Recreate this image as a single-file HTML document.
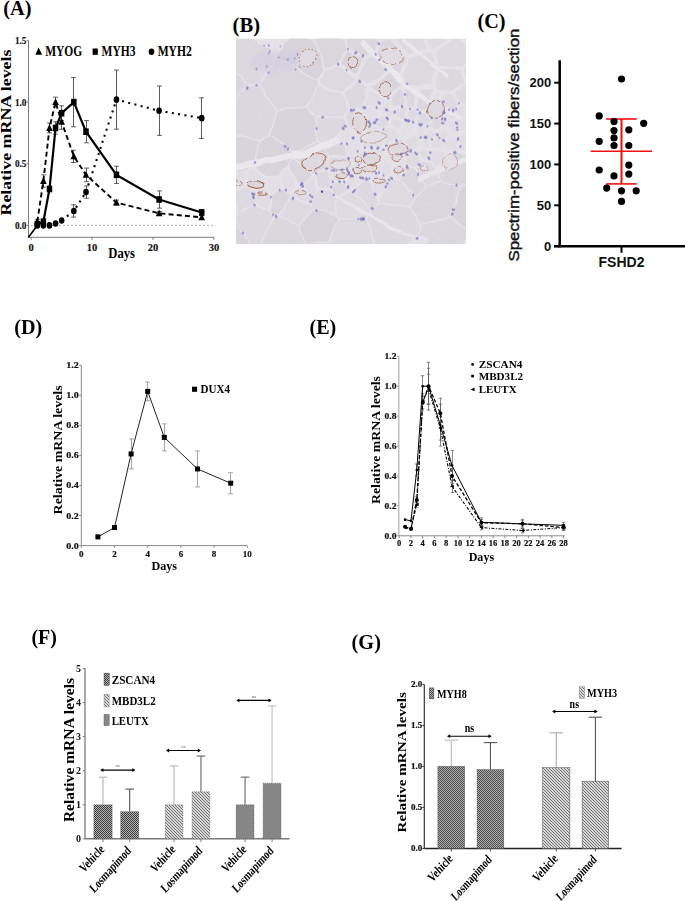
<!DOCTYPE html><html><head><meta charset="utf-8"><style>html,body{margin:0;padding:0;background:#fff;overflow:hidden}svg{display:block}</style></head><body>
<svg width="685" height="901" viewBox="0 0 685 901">
<rect width="685" height="901" fill="#fff"/>
<defs>
<pattern id="chk" width="2" height="2" patternUnits="userSpaceOnUse"><rect width="2" height="2" fill="#adadad"/><rect width="1" height="1" fill="#4e4e4e"/><rect x="1" y="1" width="1" height="1" fill="#4e4e4e"/></pattern>
<pattern id="chkF" width="2" height="2" patternUnits="userSpaceOnUse"><rect width="2" height="2" fill="#b4b4b4"/><rect width="1" height="1" fill="#3c3c3c"/><rect x="1" y="1" width="1" height="1" fill="#3c3c3c"/></pattern>
<pattern id="hat" width="3" height="3" patternUnits="userSpaceOnUse"><rect width="3" height="3" fill="#d4d4d4"/><rect width="1" height="1" fill="#787878"/><rect x="1" y="1" width="1" height="1" fill="#787878"/><rect x="2" y="2" width="1" height="1" fill="#787878"/></pattern>
<pattern id="hor" width="2" height="2" patternUnits="userSpaceOnUse"><rect width="2" height="2" fill="#8a8a8a"/><rect width="2" height="0.6" fill="#9a9a9a"/></pattern>
</defs>
<text x="3.30" y="14.60" font-size="21" font-family="'Liberation Serif', serif" font-weight="bold" fill="#000" textLength="28.20" lengthAdjust="spacingAndGlyphs" >(A)</text>
<line x1="28.50" y1="40.50" x2="28.50" y2="237.30" stroke="#7a7a7a" stroke-width="1" />
<line x1="28.50" y1="237.30" x2="214.00" y2="237.30" stroke="#7a7a7a" stroke-width="1" />
<line x1="26.60" y1="40.45" x2="28.50" y2="40.45" stroke="#7a7a7a" stroke-width="1" />
<text x="26.50" y="44.05" font-size="10.5" font-family="'Liberation Serif', serif" font-weight="bold" fill="#111" text-anchor="end" textLength="11.60" lengthAdjust="spacingAndGlyphs" stroke="#111" stroke-width="0.15">1.5</text>
<line x1="26.60" y1="102.10" x2="28.50" y2="102.10" stroke="#7a7a7a" stroke-width="1" />
<text x="26.50" y="105.70" font-size="10.5" font-family="'Liberation Serif', serif" font-weight="bold" fill="#111" text-anchor="end" textLength="11.60" lengthAdjust="spacingAndGlyphs" stroke="#111" stroke-width="0.15">1.0</text>
<line x1="26.60" y1="163.75" x2="28.50" y2="163.75" stroke="#7a7a7a" stroke-width="1" />
<text x="26.50" y="167.35" font-size="10.5" font-family="'Liberation Serif', serif" font-weight="bold" fill="#111" text-anchor="end" textLength="11.60" lengthAdjust="spacingAndGlyphs" stroke="#111" stroke-width="0.15">0.5</text>
<line x1="26.60" y1="225.40" x2="28.50" y2="225.40" stroke="#7a7a7a" stroke-width="1" />
<text x="26.50" y="229.00" font-size="10.5" font-family="'Liberation Serif', serif" font-weight="bold" fill="#111" text-anchor="end" textLength="11.60" lengthAdjust="spacingAndGlyphs" stroke="#111" stroke-width="0.15">0.0</text>
<line x1="31.20" y1="237.30" x2="31.20" y2="239.80" stroke="#7a7a7a" stroke-width="1" />
<text x="31.20" y="251.00" font-size="10.5" font-family="'Liberation Serif', serif" font-weight="bold" fill="#111" text-anchor="middle" stroke="#111" stroke-width="0.15">0</text>
<line x1="92.10" y1="237.30" x2="92.10" y2="239.80" stroke="#7a7a7a" stroke-width="1" />
<text x="92.10" y="251.00" font-size="10.5" font-family="'Liberation Serif', serif" font-weight="bold" fill="#111" text-anchor="middle" stroke="#111" stroke-width="0.15">10</text>
<line x1="153.00" y1="237.30" x2="153.00" y2="239.80" stroke="#7a7a7a" stroke-width="1" />
<text x="153.00" y="251.00" font-size="10.5" font-family="'Liberation Serif', serif" font-weight="bold" fill="#111" text-anchor="middle" stroke="#111" stroke-width="0.15">20</text>
<line x1="213.90" y1="237.30" x2="213.90" y2="239.80" stroke="#7a7a7a" stroke-width="1" />
<text x="213.90" y="251.00" font-size="10.5" font-family="'Liberation Serif', serif" font-weight="bold" fill="#111" text-anchor="middle" stroke="#111" stroke-width="0.15">30</text>
<line x1="31.00" y1="225.40" x2="214.00" y2="225.40" stroke="#9a9a9a" stroke-width="0.7" stroke-dasharray="2,2"/>
<text x="108.30" y="258.30" font-size="14.5" font-family="'Liberation Serif', serif" font-weight="bold" fill="#000" textLength="26.70" lengthAdjust="spacingAndGlyphs" >Days</text>
<text x="10.60" y="215.50" font-size="14.8" font-family="'Liberation Serif', serif" font-weight="bold" fill="#000" textLength="166.00" lengthAdjust="spacingAndGlyphs" transform="rotate(-90 10.60 215.50)" >Relative mRNA levels</text>
<polygon points="38.6,47.6 42.2,54.8 35.4,54.8" fill="#000"/>
<text x="45.20" y="56.40" font-size="14" font-family="'Liberation Serif', serif" font-weight="bold" fill="#000" textLength="37.10" lengthAdjust="spacingAndGlyphs" >MYOG</text>
<rect x="92.60" y="48.50" width="5.20" height="6.30" fill="#000" />
<text x="101.60" y="56.40" font-size="14" font-family="'Liberation Serif', serif" font-weight="bold" fill="#000" textLength="33.80" lengthAdjust="spacingAndGlyphs" >MYH3</text>
<ellipse cx="151.5" cy="51.8" rx="2.8" ry="3.3" fill="#000"/>
<text x="157.70" y="56.40" font-size="14" font-family="'Liberation Serif', serif" font-weight="bold" fill="#000" textLength="34.10" lengthAdjust="spacingAndGlyphs" >MYH2</text>
<line x1="37.50" y1="219.24" x2="37.50" y2="224.17" stroke="#4a4a4a" stroke-width="0.9" />
<line x1="35.10" y1="219.24" x2="39.90" y2="219.24" stroke="#4a4a4a" stroke-width="0.9" />
<line x1="35.10" y1="224.17" x2="39.90" y2="224.17" stroke="#4a4a4a" stroke-width="0.9" />
<line x1="43.50" y1="174.85" x2="43.50" y2="187.18" stroke="#4a4a4a" stroke-width="0.9" />
<line x1="41.10" y1="174.85" x2="45.90" y2="174.85" stroke="#4a4a4a" stroke-width="0.9" />
<line x1="41.10" y1="187.18" x2="45.90" y2="187.18" stroke="#4a4a4a" stroke-width="0.9" />
<line x1="49.50" y1="123.06" x2="49.50" y2="132.93" stroke="#4a4a4a" stroke-width="0.9" />
<line x1="47.10" y1="123.06" x2="51.90" y2="123.06" stroke="#4a4a4a" stroke-width="0.9" />
<line x1="47.10" y1="132.93" x2="51.90" y2="132.93" stroke="#4a4a4a" stroke-width="0.9" />
<line x1="55.50" y1="97.17" x2="55.50" y2="107.03" stroke="#4a4a4a" stroke-width="0.9" />
<line x1="53.10" y1="97.17" x2="57.90" y2="97.17" stroke="#4a4a4a" stroke-width="0.9" />
<line x1="53.10" y1="107.03" x2="57.90" y2="107.03" stroke="#4a4a4a" stroke-width="0.9" />
<line x1="61.50" y1="114.43" x2="61.50" y2="129.23" stroke="#4a4a4a" stroke-width="0.9" />
<line x1="59.10" y1="114.43" x2="63.90" y2="114.43" stroke="#4a4a4a" stroke-width="0.9" />
<line x1="59.10" y1="129.23" x2="63.90" y2="129.23" stroke="#4a4a4a" stroke-width="0.9" />
<line x1="73.50" y1="150.19" x2="73.50" y2="162.52" stroke="#4a4a4a" stroke-width="0.9" />
<line x1="71.10" y1="150.19" x2="75.90" y2="150.19" stroke="#4a4a4a" stroke-width="0.9" />
<line x1="71.10" y1="162.52" x2="75.90" y2="162.52" stroke="#4a4a4a" stroke-width="0.9" />
<line x1="86.50" y1="168.07" x2="86.50" y2="181.63" stroke="#4a4a4a" stroke-width="0.9" />
<line x1="84.10" y1="168.07" x2="88.90" y2="168.07" stroke="#4a4a4a" stroke-width="0.9" />
<line x1="84.10" y1="181.63" x2="88.90" y2="181.63" stroke="#4a4a4a" stroke-width="0.9" />
<line x1="116.50" y1="200.12" x2="116.50" y2="205.06" stroke="#4a4a4a" stroke-width="0.9" />
<line x1="114.10" y1="200.12" x2="118.90" y2="200.12" stroke="#4a4a4a" stroke-width="0.9" />
<line x1="114.10" y1="205.06" x2="118.90" y2="205.06" stroke="#4a4a4a" stroke-width="0.9" />
<line x1="159.50" y1="211.47" x2="159.50" y2="215.17" stroke="#4a4a4a" stroke-width="0.9" />
<line x1="157.10" y1="211.47" x2="161.90" y2="211.47" stroke="#4a4a4a" stroke-width="0.9" />
<line x1="157.10" y1="215.17" x2="161.90" y2="215.17" stroke="#4a4a4a" stroke-width="0.9" />
<line x1="201.50" y1="215.54" x2="201.50" y2="219.24" stroke="#4a4a4a" stroke-width="0.9" />
<line x1="199.10" y1="215.54" x2="203.90" y2="215.54" stroke="#4a4a4a" stroke-width="0.9" />
<line x1="199.10" y1="219.24" x2="203.90" y2="219.24" stroke="#4a4a4a" stroke-width="0.9" />
<line x1="43.50" y1="219.24" x2="43.50" y2="224.17" stroke="#4a4a4a" stroke-width="0.9" />
<line x1="41.10" y1="219.24" x2="45.90" y2="219.24" stroke="#4a4a4a" stroke-width="0.9" />
<line x1="41.10" y1="224.17" x2="45.90" y2="224.17" stroke="#4a4a4a" stroke-width="0.9" />
<line x1="49.50" y1="186.56" x2="49.50" y2="191.49" stroke="#4a4a4a" stroke-width="0.9" />
<line x1="47.10" y1="186.56" x2="51.90" y2="186.56" stroke="#4a4a4a" stroke-width="0.9" />
<line x1="47.10" y1="191.49" x2="51.90" y2="191.49" stroke="#4a4a4a" stroke-width="0.9" />
<line x1="55.50" y1="121.83" x2="55.50" y2="134.16" stroke="#4a4a4a" stroke-width="0.9" />
<line x1="53.10" y1="121.83" x2="57.90" y2="121.83" stroke="#4a4a4a" stroke-width="0.9" />
<line x1="53.10" y1="134.16" x2="57.90" y2="134.16" stroke="#4a4a4a" stroke-width="0.9" />
<line x1="61.50" y1="105.80" x2="61.50" y2="120.59" stroke="#4a4a4a" stroke-width="0.9" />
<line x1="59.10" y1="105.80" x2="63.90" y2="105.80" stroke="#4a4a4a" stroke-width="0.9" />
<line x1="59.10" y1="120.59" x2="63.90" y2="120.59" stroke="#4a4a4a" stroke-width="0.9" />
<line x1="73.50" y1="77.44" x2="73.50" y2="126.76" stroke="#4a4a4a" stroke-width="0.9" />
<line x1="71.10" y1="77.44" x2="75.90" y2="77.44" stroke="#4a4a4a" stroke-width="0.9" />
<line x1="71.10" y1="126.76" x2="75.90" y2="126.76" stroke="#4a4a4a" stroke-width="0.9" />
<line x1="86.50" y1="120.60" x2="86.50" y2="142.79" stroke="#4a4a4a" stroke-width="0.9" />
<line x1="84.10" y1="120.60" x2="88.90" y2="120.60" stroke="#4a4a4a" stroke-width="0.9" />
<line x1="84.10" y1="142.79" x2="88.90" y2="142.79" stroke="#4a4a4a" stroke-width="0.9" />
<line x1="116.50" y1="166.22" x2="116.50" y2="183.48" stroke="#4a4a4a" stroke-width="0.9" />
<line x1="114.10" y1="166.22" x2="118.90" y2="166.22" stroke="#4a4a4a" stroke-width="0.9" />
<line x1="114.10" y1="183.48" x2="118.90" y2="183.48" stroke="#4a4a4a" stroke-width="0.9" />
<line x1="159.50" y1="190.88" x2="159.50" y2="208.14" stroke="#4a4a4a" stroke-width="0.9" />
<line x1="157.10" y1="190.88" x2="161.90" y2="190.88" stroke="#4a4a4a" stroke-width="0.9" />
<line x1="157.10" y1="208.14" x2="161.90" y2="208.14" stroke="#4a4a4a" stroke-width="0.9" />
<line x1="201.50" y1="209.99" x2="201.50" y2="214.92" stroke="#4a4a4a" stroke-width="0.9" />
<line x1="199.10" y1="209.99" x2="203.90" y2="209.99" stroke="#4a4a4a" stroke-width="0.9" />
<line x1="199.10" y1="214.92" x2="203.90" y2="214.92" stroke="#4a4a4a" stroke-width="0.9" />
<line x1="73.50" y1="204.81" x2="73.50" y2="217.14" stroke="#4a4a4a" stroke-width="0.9" />
<line x1="71.10" y1="204.81" x2="75.90" y2="204.81" stroke="#4a4a4a" stroke-width="0.9" />
<line x1="71.10" y1="217.14" x2="75.90" y2="217.14" stroke="#4a4a4a" stroke-width="0.9" />
<line x1="86.50" y1="185.94" x2="86.50" y2="198.27" stroke="#4a4a4a" stroke-width="0.9" />
<line x1="84.10" y1="185.94" x2="88.90" y2="185.94" stroke="#4a4a4a" stroke-width="0.9" />
<line x1="84.10" y1="198.27" x2="88.90" y2="198.27" stroke="#4a4a4a" stroke-width="0.9" />
<line x1="116.50" y1="70.04" x2="116.50" y2="129.23" stroke="#4a4a4a" stroke-width="0.9" />
<line x1="114.10" y1="70.04" x2="118.90" y2="70.04" stroke="#4a4a4a" stroke-width="0.9" />
<line x1="114.10" y1="129.23" x2="118.90" y2="129.23" stroke="#4a4a4a" stroke-width="0.9" />
<line x1="159.50" y1="86.07" x2="159.50" y2="135.39" stroke="#4a4a4a" stroke-width="0.9" />
<line x1="157.10" y1="86.07" x2="161.90" y2="86.07" stroke="#4a4a4a" stroke-width="0.9" />
<line x1="157.10" y1="135.39" x2="161.90" y2="135.39" stroke="#4a4a4a" stroke-width="0.9" />
<line x1="201.50" y1="97.78" x2="201.50" y2="138.47" stroke="#4a4a4a" stroke-width="0.9" />
<line x1="199.10" y1="97.78" x2="203.90" y2="97.78" stroke="#4a4a4a" stroke-width="0.9" />
<line x1="199.10" y1="138.47" x2="203.90" y2="138.47" stroke="#4a4a4a" stroke-width="0.9" />
<line x1="28.30" y1="237.50" x2="37.29" y2="225.40" stroke="#000" stroke-width="1.6" />
<polyline points="37.29,225.40 43.38,225.40 49.47,225.40 55.56,223.55 61.65,220.47 73.83,210.97 86.01,192.11 116.46,99.63 159.09,110.73 201.72,118.13" fill="none" stroke="#000" stroke-width="2.1" stroke-dasharray="2,4.4"/>
<polyline points="37.29,221.70 43.38,181.01 49.47,127.99 55.56,102.10 61.65,121.83 73.83,156.35 86.01,174.85 116.46,202.59 159.09,213.32 201.72,217.39" fill="none" stroke="#000" stroke-width="1.9" stroke-dasharray="5,3.2"/>
<polyline points="37.29,224.17 43.38,221.70 49.47,189.03 55.56,127.99 61.65,113.20 73.83,102.10 86.01,131.69 116.46,174.85 159.09,199.51 201.72,212.45" fill="none" stroke="#000" stroke-width="2.2" />
<ellipse cx="37.29" cy="225.40" rx="2.8" ry="3.3" fill="#000"/>
<ellipse cx="43.38" cy="225.40" rx="2.8" ry="3.3" fill="#000"/>
<ellipse cx="49.47" cy="225.40" rx="2.8" ry="3.3" fill="#000"/>
<ellipse cx="55.56" cy="223.55" rx="2.8" ry="3.3" fill="#000"/>
<ellipse cx="61.65" cy="220.47" rx="2.8" ry="3.3" fill="#000"/>
<ellipse cx="73.83" cy="210.97" rx="2.8" ry="3.3" fill="#000"/>
<ellipse cx="86.01" cy="192.11" rx="2.8" ry="3.3" fill="#000"/>
<ellipse cx="116.46" cy="99.63" rx="2.8" ry="3.3" fill="#000"/>
<ellipse cx="159.09" cy="110.73" rx="2.8" ry="3.3" fill="#000"/>
<ellipse cx="201.72" cy="118.13" rx="2.8" ry="3.3" fill="#000"/>
<polygon points="37.29,217.80 40.59,224.60 33.99,224.60" fill="#000"/>
<polygon points="43.38,177.11 46.68,183.91 40.08,183.91" fill="#000"/>
<polygon points="49.47,124.09 52.77,130.89 46.17,130.89" fill="#000"/>
<polygon points="55.56,98.20 58.86,105.00 52.26,105.00" fill="#000"/>
<polygon points="61.65,117.93 64.95,124.73 58.35,124.73" fill="#000"/>
<polygon points="73.83,152.45 77.13,159.25 70.53,159.25" fill="#000"/>
<polygon points="86.01,170.95 89.31,177.75 82.71,177.75" fill="#000"/>
<polygon points="116.46,198.69 119.76,205.49 113.16,205.49" fill="#000"/>
<polygon points="159.09,209.42 162.39,216.22 155.79,216.22" fill="#000"/>
<polygon points="201.72,213.49 205.02,220.29 198.42,220.29" fill="#000"/>
<rect x="34.54" y="220.87" width="5.50" height="6.60" fill="#000" />
<rect x="40.63" y="218.40" width="5.50" height="6.60" fill="#000" />
<rect x="46.72" y="185.73" width="5.50" height="6.60" fill="#000" />
<rect x="52.81" y="124.69" width="5.50" height="6.60" fill="#000" />
<rect x="58.90" y="109.90" width="5.50" height="6.60" fill="#000" />
<rect x="71.08" y="98.80" width="5.50" height="6.60" fill="#000" />
<rect x="83.26" y="128.39" width="5.50" height="6.60" fill="#000" />
<rect x="113.71" y="171.55" width="5.50" height="6.60" fill="#000" />
<rect x="156.34" y="196.21" width="5.50" height="6.60" fill="#000" />
<rect x="198.97" y="209.15" width="5.50" height="6.60" fill="#000" />
<text x="232.60" y="31.60" font-size="20" font-family="'Liberation Serif', serif" font-weight="bold" fill="#000" textLength="27.40" lengthAdjust="spacingAndGlyphs" >(B)</text>
<svg x="236" y="38.6" width="230" height="205.4" viewBox="0 0 230 205.4" overflow="hidden">
<defs><filter id="hb" x="-5%" y="-5%" width="110%" height="110%"><feGaussianBlur stdDeviation="0.6"/></filter><filter id="hb2" x="-20%" y="-20%" width="140%" height="140%"><feGaussianBlur stdDeviation="2.5"/></filter><filter id="hd" x="-5%" y="-5%" width="110%" height="110%"><feTurbulence type="fractalNoise" baseFrequency="0.05" numOctaves="2" seed="3" result="t"/><feDisplacementMap in="SourceGraphic" in2="t" scale="6" xChannelSelector="R" yChannelSelector="G" result="d"/><feGaussianBlur in="d" stdDeviation="0.5"/></filter></defs>
<rect width="230.0" height="205.4" fill="#e4e2e7"/>
<g filter="url(#hd)">
<path d="M41.2,13.9 L41.1,17.7 L80.5,41.2 L88.2,28.8 L77.7,1.3 L66.1,-1.2 L54.2,-1.2 L41.2,13.9Z" fill="rgb(216,211,219)"/>
<path d="M126.6,21.0 L126.6,19.7 L125.8,18.8 L111.6,12.6 L110.3,13.5 L104.5,22.9 L104.2,24.2 L105.0,25.3 L118.3,34.7 L119.6,35.0 L120.9,34.1 L126.6,21.0Z" fill="rgb(216,211,219)"/>
<path d="M141.4,13.7 L141.6,15.3 L152.8,32.0 L162.0,34.1 L163.6,33.5 L170.4,19.2 L170.5,18.0 L154.4,0.2 L152.2,-0.1 L145.8,2.5 L141.4,13.7Z" fill="rgb(219,214,222)"/>
<path d="M163.5,38.7 L162.3,37.8 L152.0,36.0 L138.0,46.3 L137.5,47.2 L137.5,48.3 L146.7,56.7 L152.5,57.4 L165.8,44.5 L165.9,42.9 L163.5,38.7Z" fill="rgb(216,212,219)"/>
<path d="M196.2,76.4 L197.5,77.2 L204.1,77.2 L204.9,76.4 L207.1,70.6 L203.7,55.7 L203.0,54.8 L200.7,53.7 L199.6,53.8 L198.7,54.7 L193.3,71.3 L193.5,72.5 L196.2,76.4Z" fill="rgb(224,221,227)"/>
<path d="M121.7,95.4 L123.3,95.1 L131.7,87.5 L132.1,85.6 L125.0,73.1 L113.4,73.4 L112.5,74.1 L109.5,78.9 L111.1,85.8 L120.7,94.9 L121.7,95.4Z" fill="rgb(221,216,224)"/>
<path d="M129.0,106.3 L130.6,107.3 L143.4,107.8 L144.7,107.3 L145.2,105.7 L143.3,94.0 L142.8,93.1 L136.5,89.0 L135.2,88.8 L126.0,97.0 L125.6,98.9 L129.0,106.3Z" fill="rgb(226,222,229)"/>
<path d="M90.8,118.3 L84.5,106.3 L81.2,104.4 L57.2,114.2 L57.5,118.8 L76.9,134.1 L78.7,134.5 L89.8,129.4 L90.8,118.3Z" fill="rgb(216,213,219)"/>
<path d="M97.5,133.3 L96.2,134.1 L95.9,135.5 L97.7,140.2 L98.9,141.1 L108.8,141.6 L109.7,140.9 L111.7,137.1 L110.9,133.8 L109.7,132.8 L97.5,133.3Z" fill="rgb(224,220,227)"/>
<path d="M139.8,124.5 L141.5,123.9 L146.5,117.1 L146.6,113.8 L146.0,112.0 L144.5,111.1 L131.4,110.9 L130.5,112.3 L131.0,122.0 L132.0,122.8 L139.8,124.5Z" fill="rgb(224,221,227)"/>
<path d="M129.6,137.3 L130.5,138.6 L132.0,138.7 L139.5,133.0 L140.0,131.7 L140.0,129.1 L139.5,128.0 L130.8,125.8 L129.2,126.2 L128.3,128.0 L129.6,137.3Z" fill="rgb(224,221,227)"/>
<path d="M114.5,134.5 L115.9,135.7 L123.9,137.3 L125.2,137.1 L126.1,135.4 L125.1,129.1 L123.9,128.1 L115.5,127.1 L114.6,127.9 L113.6,130.8 L114.5,134.5Z" fill="rgb(226,222,229)"/>
<path d="M150.7,108.8 L149.9,109.7 L149.7,110.7 L150.3,111.8 L151.3,112.2 L168.9,114.3 L170.2,113.8 L171.2,112.2 L167.2,102.8 L165.5,101.7 L164.4,101.9 L150.7,108.8Z" fill="rgb(222,218,225)"/>
<path d="M153.3,115.7 L151.6,116.4 L151.5,118.3 L157.5,124.3 L166.7,123.2 L168.1,122.2 L168.6,118.9 L167.5,117.5 L153.3,115.7Z" fill="rgb(225,221,228)"/>
<path d="M141.0,156.0 L142.3,157.0 L144.0,156.3 L150.9,141.8 L150.1,140.2 L142.0,135.6 L140.9,135.9 L135.1,140.5 L134.4,141.9 L141.0,156.0Z" fill="rgb(225,221,228)"/>
<path d="M19.2,131.0 L17.3,130.7 L13.7,133.5 L12.2,147.3 L12.7,148.8 L16.3,152.6 L17.3,153.0 L18.6,152.6 L26.9,145.8 L27.9,139.6 L27.4,138.2 L19.2,131.0Z" fill="rgb(225,221,228)"/>
<path d="M19.7,155.9 L19.0,157.5 L19.9,164.6 L20.4,165.7 L29.8,168.9 L31.4,168.5 L32.0,167.4 L33.3,157.5 L29.2,150.3 L28.2,149.8 L27.0,149.9 L19.7,155.9Z" fill="rgb(224,219,227)"/>
<path d="M169.3,128.9 L169.3,127.2 L168.0,126.4 L158.9,127.8 L158.3,128.8 L157.1,136.7 L157.5,138.0 L158.3,138.7 L162.7,139.6 L164.2,139.3 L169.3,128.9Z" fill="rgb(226,222,229)"/>
<path d="M203.2,131.6 L205.9,141.4 L223.8,146.8 L228.8,144.7 L231.2,118.9 L225.9,115.0 L210.7,114.3 L203.2,131.6Z" fill="rgb(217,214,220)"/>
<path d="M124.9,125.0 L126.4,124.5 L127.6,122.7 L127.3,113.9 L126.8,112.9 L125.7,112.5 L115.2,118.6 L114.3,120.1 L115.0,122.6 L115.9,123.5 L124.9,125.0Z" fill="rgb(223,219,226)"/>
<path d="M92.2,128.3 L92.7,129.7 L93.9,130.3 L110.1,129.3 L111.0,128.5 L112.3,125.0 L110.9,120.1 L109.2,118.9 L93.9,119.8 L92.9,121.1 L92.2,128.3Z" fill="rgb(221,217,224)"/>
<path d="M1.3,134.3 L0.2,134.8 L-0.4,136.0 L-0.4,149.3 L0.1,150.6 L1.3,151.1 L8.0,148.1 L8.8,147.4 L10.1,135.9 L9.7,134.7 L8.6,134.1 L1.3,134.3Z" fill="rgb(224,221,227)"/>
<path d="M55.8,156.7 L57.0,158.0 L71.2,162.8 L72.9,162.1 L73.8,159.4 L73.4,158.0 L65.0,148.0 L63.9,147.3 L62.4,147.7 L55.9,154.3 L55.5,155.3 L55.8,156.7Z" fill="rgb(224,220,227)"/>
<path d="M204.4,141.6 L201.8,131.9 L192.3,122.5 L187.4,122.7 L180.3,130.6 L189.2,148.1 L204.4,141.6Z" fill="rgb(220,216,223)"/>
<path d="M13.0,46.8 L-1.2,34.9 L-1.2,59.3 L13.0,46.8Z" fill="rgb(218,213,221)"/>
<path d="M14.1,206.4 L-1.2,183.9 L-1.2,206.7 L14.1,206.4Z" fill="rgb(216,212,219)"/>
<path d="M39.7,14.1 L15.2,-1.2 L2.6,-1.2 L-1.2,2.2 L-1.2,33.0 L14.4,46.0 L23.3,45.7 L39.6,18.0 L39.7,14.1Z" fill="rgb(220,216,223)"/>
<path d="M138.1,204.0 L129.0,181.1 L103.2,181.2 L94.4,203.5 L96.9,206.7 L134.5,206.7 L138.1,204.0Z" fill="rgb(221,217,224)"/>
<path d="M76.4,158.6 L74.6,165.4 L76.1,170.0 L99.0,175.7 L100.3,161.6 L94.0,151.9 L81.1,153.0 L76.4,158.6Z" fill="rgb(221,217,224)"/>
<path d="M68.5,205.6 L63.0,187.2 L39.8,178.8 L39.4,178.9 L25.0,206.7 L67.8,206.7 L68.5,205.6Z" fill="rgb(218,215,221)"/>
<path d="M216.3,178.0 L231.2,192.1 L231.2,146.5 L229.5,146.0 L224.5,148.1 L216.3,178.0Z" fill="rgb(216,211,219)"/>
<path d="M80.6,46.7 L80.1,42.7 L40.6,19.2 L24.7,46.4 L41.5,71.4 L70.2,66.3 L80.6,46.7Z" fill="rgb(218,214,221)"/>
<path d="M79.3,78.7 L70.4,67.8 L41.8,72.9 L35.2,95.8 L56.5,112.9 L80.5,103.1 L79.3,78.7Z" fill="rgb(217,212,220)"/>
<path d="M180.2,159.6 L177.2,169.5 L183.8,184.9 L214.8,177.6 L222.9,148.1 L205.4,142.8 L189.3,149.6 L180.2,159.6Z" fill="rgb(218,214,221)"/>
<path d="M205.0,52.0 L213.8,52.0 L226.8,43.4 L227.2,41.7 L224.6,31.8 L223.6,31.4 L205.6,29.6 L204.2,30.1 L198.6,47.4 L199.8,49.2 L205.0,52.0Z" fill="rgb(219,216,222)"/>
<path d="M224.3,94.9 L223.0,95.8 L222.9,97.2 L226.9,111.1 L227.7,112.0 L229.1,112.1 L230.0,111.6 L230.4,110.6 L230.3,95.5 L228.8,94.2 L224.3,94.9Z" fill="rgb(224,221,227)"/>
<path d="M215.2,179.0 L183.9,186.4 L180.8,198.7 L192.5,206.7 L224.7,206.7 L231.2,200.2 L231.2,194.2 L215.2,179.0Z" fill="rgb(219,215,222)"/>
<path d="M177.5,87.1 L177.2,85.9 L176.2,85.1 L170.1,83.3 L168.3,84.0 L165.2,93.1 L167.0,98.8 L168.9,99.0 L176.1,94.8 L177.5,87.1Z" fill="rgb(227,223,230)"/>
<path d="M-1.2,96.2 L22.7,101.3 L33.7,95.5 L40.4,72.3 L23.4,47.2 L14.4,47.5 L-1.2,61.3 L-1.2,96.2Z" fill="rgb(220,215,223)"/>
<path d="M56.1,119.1 L55.6,114.1 L34.2,96.9 L23.5,102.6 L19.1,127.7 L30.0,137.3 L43.5,136.8 L52.6,127.4 L56.1,119.1Z" fill="rgb(216,212,219)"/>
<path d="M230.2,48.8 L229.4,47.3 L227.7,47.1 L218.1,53.9 L218.3,55.7 L224.2,61.7 L228.5,62.3 L230.1,61.2 L230.2,48.8Z" fill="rgb(220,217,223)"/>
<path d="M206.2,99.4 L208.2,99.5 L212.5,96.5 L213.1,95.5 L212.6,93.9 L207.5,90.2 L206.0,90.6 L202.8,94.4 L203.3,97.0 L206.2,99.4Z" fill="rgb(223,220,226)"/>
<path d="M184.8,97.0 L186.0,97.1 L187.1,96.2 L188.9,89.6 L187.7,88.4 L181.8,87.4 L180.5,88.7 L179.9,94.1 L180.7,95.2 L184.8,97.0Z" fill="rgb(226,222,229)"/>
<path d="M211.2,69.3 L218.2,70.1 L219.0,69.4 L220.9,64.8 L220.7,63.3 L213.7,55.8 L208.4,55.8 L207.7,56.6 L207.5,57.6 L210.1,68.5 L211.2,69.3Z" fill="rgb(223,219,226)"/>
<path d="M78.2,-0.1 L80.4,-1.2 L73.1,-1.2 L78.2,-0.1Z" fill="rgb(220,216,223)"/>
<path d="M179.2,198.6 L182.5,185.8 L175.9,170.3 L142.8,165.3 L135.1,171.8 L130.4,180.4 L139.6,203.7 L147.1,206.7 L169.4,206.7 L179.2,198.6Z" fill="rgb(220,216,223)"/>
<path d="M218.9,0.1 L199.7,13.4 L199.7,14.6 L203.8,25.0 L204.9,25.9 L225.0,27.8 L226.2,27.2 L230.1,22.4 L230.1,6.5 L220.7,-0.1 L218.9,0.1Z" fill="rgb(221,217,224)"/>
<path d="M228.3,30.3 L230.2,38.6 L230.2,28.0 L228.3,30.3Z" fill="rgb(216,212,219)"/>
<path d="M230.2,1.9 L230.2,-0.2 L227.1,-0.2 L230.2,1.9Z" fill="rgb(221,218,224)"/>
<path d="M106.3,55.7 L81.7,47.8 L71.6,66.9 L80.4,77.7 L107.2,77.8 L111.3,71.7 L106.3,55.7Z" fill="rgb(221,217,224)"/>
<path d="M169.8,42.5 L170.9,43.4 L182.3,46.4 L193.9,46.2 L195.1,45.5 L200.9,27.7 L195.3,14.1 L192.5,13.1 L174.4,19.5 L166.5,36.0 L166.7,37.0 L169.8,42.5Z" fill="rgb(220,217,223)"/>
<path d="M130.9,49.8 L130.8,48.6 L130.1,47.8 L123.1,44.5 L121.9,44.3 L109.7,55.0 L109.3,56.7 L113.4,69.4 L114.6,69.9 L124.5,69.4 L126.2,68.4 L130.9,49.8Z" fill="rgb(220,216,223)"/>
<path d="M141.6,1.3 L139.2,-0.2 L113.7,-0.1 L111.6,1.2 L111.0,2.3 L111.9,7.8 L112.9,9.0 L129.0,16.2 L130.2,16.3 L137.8,13.0 L141.8,2.5 L141.6,1.3Z" fill="rgb(218,214,221)"/>
<path d="M93.2,204.5 L69.6,206.7 L95.0,206.7 L93.2,204.5Z" fill="rgb(218,214,221)"/>
<path d="M230.3,144.7 L231.2,145.0 L231.2,135.2 L230.3,144.7Z" fill="rgb(218,214,221)"/>
<path d="M91.5,133.3 L90.6,132.3 L89.2,132.3 L81.7,135.7 L80.8,136.6 L82.0,148.8 L82.9,150.2 L92.1,149.7 L93.4,148.8 L95.1,142.6 L91.5,133.3Z" fill="rgb(221,216,224)"/>
<path d="M79.2,1.0 L89.4,27.9 L100.7,24.2 L109.6,9.7 L108.2,1.5 L103.4,-1.2 L83.7,-1.2 L79.2,1.0Z" fill="rgb(217,214,220)"/>
<path d="M196.3,107.7 L196.7,108.9 L197.9,109.5 L204.7,108.7 L205.6,107.3 L205.4,102.9 L202.0,100.2 L200.3,100.2 L196.5,102.6 L196.3,107.7Z" fill="rgb(225,220,228)"/>
<path d="M118.7,42.1 L119.3,40.8 L118.7,39.4 L101.6,27.4 L100.6,27.1 L90.2,30.5 L82.7,43.1 L83.0,44.8 L83.9,45.8 L106.2,52.8 L107.3,52.4 L118.7,42.1Z" fill="rgb(221,217,224)"/>
<path d="M118.4,153.2 L134.5,170.3 L141.8,164.2 L141.8,163.2 L131.4,141.5 L128.3,140.4 L118.4,153.2Z" fill="rgb(220,216,223)"/>
<path d="M46.3,137.2 L45.9,138.8 L48.5,148.1 L52.5,151.4 L54.2,151.4 L59.6,146.0 L60.0,144.9 L53.9,132.6 L52.9,131.9 L51.5,132.0 L46.3,137.2Z" fill="rgb(226,221,229)"/>
<path d="M225.6,65.4 L223.9,66.2 L221.4,71.9 L223.1,75.7 L224.4,76.4 L229.2,75.6 L230.4,74.1 L230.2,66.7 L229.2,65.9 L225.6,65.4Z" fill="rgb(225,221,228)"/>
<path d="M199.6,95.4 L198.8,94.1 L194.2,91.3 L193.2,91.1 L191.8,92.2 L190.5,96.5 L191.3,97.8 L194.9,99.4 L199.0,97.3 L199.6,95.4Z" fill="rgb(224,221,227)"/>
<path d="M196.0,52.1 L195.8,50.6 L194.4,49.8 L185.0,49.9 L183.7,50.7 L181.5,67.9 L182.0,69.0 L184.5,70.9 L185.5,71.2 L189.0,70.7 L190.2,69.8 L196.0,52.1Z" fill="rgb(219,214,222)"/>
<path d="M167.5,52.4 L166.6,50.8 L164.7,50.8 L155.7,59.6 L155.4,60.9 L156.6,65.9 L157.7,67.3 L159.2,67.6 L165.5,66.2 L166.5,65.4 L167.5,52.4Z" fill="rgb(219,214,222)"/>
<path d="M111.2,90.6 L109.9,90.1 L108.6,90.7 L101.4,98.9 L101.1,100.0 L101.7,101.2 L107.9,104.3 L109.1,104.5 L116.5,97.8 L116.9,96.7 L116.6,95.5 L111.2,90.6Z" fill="rgb(226,223,229)"/>
<path d="M113.4,153.0 L101.8,161.8 L100.4,176.4 L103.0,179.7 L129.1,179.6 L133.5,171.5 L117.0,153.9 L113.4,153.0Z" fill="rgb(222,218,225)"/>
<path d="M47.1,150.2 L35.7,157.5 L33.8,171.4 L39.2,177.4 L53.9,158.7 L52.9,154.8 L47.1,150.2Z" fill="rgb(217,213,220)"/>
<path d="M-1.2,97.7 L-1.2,132.1 L11.9,131.6 L17.6,127.6 L21.9,102.7 L-1.2,97.7Z" fill="rgb(216,212,219)"/>
<path d="M179.6,158.1 L188.0,148.9 L178.8,131.1 L172.0,128.8 L165.9,141.7 L179.6,158.1Z" fill="rgb(218,214,221)"/>
<path d="M130.6,70.7 L129.1,71.5 L129.0,73.2 L134.4,83.0 L135.4,83.7 L136.6,83.6 L143.0,76.0 L143.1,74.2 L139.8,70.8 L130.6,70.7Z" fill="rgb(226,222,229)"/>
<path d="M172.8,14.8 L174.5,15.4 L189.7,10.0 L190.2,8.3 L187.1,0.3 L185.9,-0.2 L163.0,-0.2 L161.8,0.3 L161.3,1.4 L161.6,2.7 L172.8,14.8Z" fill="rgb(221,217,224)"/>
<path d="M132.3,44.9 L134.1,44.7 L147.9,34.4 L148.6,33.4 L148.4,32.0 L139.1,18.2 L138.0,17.4 L131.7,19.6 L130.8,20.3 L122.9,38.6 L123.1,39.9 L123.8,40.8 L132.3,44.9Z" fill="rgb(220,216,223)"/>
<path d="M107.1,79.3 L80.8,79.2 L82.0,103.1 L85.1,104.9 L97.0,100.4 L108.9,86.8 L107.1,79.3Z" fill="rgb(220,216,223)"/>
<path d="M143.3,69.4 L146.0,72.0 L147.2,71.8 L152.9,67.2 L153.1,66.1 L152.2,62.1 L151.3,61.0 L147.8,60.5 L146.5,61.3 L143.0,68.2 L143.3,69.4Z" fill="rgb(227,223,230)"/>
<path d="M222.8,90.0 L223.3,91.1 L224.6,91.6 L229.1,90.8 L230.1,90.1 L230.4,80.9 L229.6,79.4 L228.5,79.1 L224.2,79.8 L222.3,82.1 L222.0,83.1 L222.8,90.0Z" fill="rgb(225,220,228)"/>
<path d="M165.7,80.4 L167.5,80.3 L168.3,79.0 L169.4,71.8 L168.5,70.1 L167.4,69.4 L161.4,70.6 L160.2,72.1 L161.3,77.8 L165.7,80.4Z" fill="rgb(222,218,225)"/>
<path d="M-1.2,155.2 L-1.2,162.4 L2.2,173.3 L17.7,166.5 L16.5,156.2 L10.2,149.6 L-1.2,155.2Z" fill="rgb(221,217,224)"/>
<path d="M210.5,111.4 L211.7,112.0 L221.5,112.5 L223.2,111.5 L223.3,110.2 L219.8,98.3 L219.1,97.3 L217.2,97.2 L209.1,102.9 L208.9,109.2 L210.5,111.4Z" fill="rgb(227,222,230)"/>
<path d="M189.4,100.4 L188.0,100.3 L186.9,101.2 L186.1,106.1 L187.2,107.3 L191.8,108.3 L193.1,107.0 L193.0,102.9 L192.3,102.0 L189.4,100.4Z" fill="rgb(224,220,227)"/>
<path d="M177.8,128.3 L179.7,127.8 L183.9,123.2 L184.2,121.8 L177.2,114.2 L174.6,113.8 L173.7,114.5 L172.2,116.8 L171.2,124.2 L172.9,126.6 L177.8,128.3Z" fill="rgb(221,218,224)"/>
<path d="M151.3,137.2 L152.8,137.4 L153.9,136.3 L155.2,127.2 L150.0,121.4 L148.4,120.9 L147.4,121.4 L143.4,126.9 L143.3,131.8 L144.0,132.8 L151.3,137.2Z" fill="rgb(225,221,228)"/>
<path d="M173.5,47.8 L172.0,48.1 L171.3,49.3 L170.3,66.1 L171.4,68.2 L172.6,68.8 L176.8,68.0 L177.9,67.0 L179.9,50.9 L178.8,49.2 L173.5,47.8Z" fill="rgb(219,215,222)"/>
<path d="M181.9,81.6 L181.8,82.9 L182.7,84.0 L189.9,85.4 L191.2,84.5 L193.6,79.7 L193.7,78.6 L190.5,74.2 L186.3,74.5 L185.2,75.3 L181.9,81.6Z" fill="rgb(222,218,225)"/>
<path d="M178.8,97.9 L177.2,98.0 L171.6,101.2 L170.9,102.2 L170.9,103.3 L173.8,109.5 L174.9,110.5 L177.4,110.4 L182.0,107.4 L182.6,106.5 L183.4,100.5 L182.7,99.6 L178.8,97.9Z" fill="rgb(222,219,225)"/>
<path d="M0.9,174.2 L-1.2,167.4 L-1.2,178.3 L0.9,174.2Z" fill="rgb(222,218,225)"/>
<path d="M185.0,110.0 L183.8,110.0 L181.6,111.5 L181.1,112.6 L181.3,113.6 L187.4,120.0 L188.4,120.3 L190.8,120.0 L191.6,118.8 L192.7,113.8 L192.5,112.8 L191.6,111.9 L185.0,110.0Z" fill="rgb(223,220,226)"/>
<path d="M143.3,163.9 L175.9,168.7 L178.7,159.4 L164.6,142.5 L155.2,140.4 L154.0,140.9 L143.3,163.9Z" fill="rgb(221,218,224)"/>
<path d="M179.8,71.6 L178.3,71.2 L173.7,72.1 L172.8,72.6 L171.6,78.9 L172.3,80.4 L176.9,81.9 L178.5,81.2 L181.9,74.4 L181.6,73.1 L179.8,71.6Z" fill="rgb(221,217,224)"/>
<path d="M54.9,159.8 L41.1,177.7 L63.3,185.8 L74.7,170.5 L73.3,166.1 L54.9,159.8Z" fill="rgb(220,217,223)"/>
<path d="M-1.2,181.3 L15.6,205.9 L23.3,206.7 L38.0,178.3 L32.6,172.3 L18.6,167.8 L2.3,174.9 L-1.2,181.3Z" fill="rgb(221,216,224)"/>
<path d="M143.8,89.8 L145.3,90.1 L149.3,87.8 L150.9,83.1 L150.6,81.4 L146.9,78.1 L145.1,78.5 L139.6,85.6 L140.1,87.4 L143.8,89.8Z" fill="rgb(221,217,224)"/>
<path d="M208.3,85.7 L208.9,86.9 L217.0,93.3 L218.4,93.5 L219.5,92.7 L219.8,91.7 L219.0,85.1 L218.2,83.7 L209.8,82.5 L208.4,83.5 L208.3,85.7Z" fill="rgb(225,221,228)"/>
<path d="M77.7,140.0 L76.6,138.5 L74.9,138.7 L68.1,145.7 L68.5,147.2 L74.3,154.2 L75.4,154.8 L77.0,154.3 L79.0,151.6 L77.7,140.0Z" fill="rgb(225,220,228)"/>
<path d="M136.6,52.3 L134.9,51.8 L133.7,53.0 L130.6,65.4 L130.9,66.7 L131.9,67.4 L139.6,67.2 L143.5,59.9 L143.1,58.2 L136.6,52.3Z" fill="rgb(224,220,227)"/>
<path d="M162.9,89.8 L164.5,83.9 L163.9,83.1 L160.2,81.1 L159.2,81.0 L154.6,82.8 L153.3,87.0 L154.3,88.3 L161.6,90.7 L162.9,89.8Z" fill="rgb(222,218,225)"/>
<path d="M194.6,120.2 L194.9,121.7 L200.0,126.9 L201.1,127.4 L202.1,127.2 L202.9,126.3 L207.9,114.9 L207.9,113.4 L207.0,112.3 L205.9,111.9 L196.9,113.0 L196.0,114.0 L194.6,120.2Z" fill="rgb(225,220,228)"/>
<path d="M100.4,157.5 L101.3,158.2 L102.7,158.1 L110.7,152.0 L111.0,150.5 L108.8,145.2 L99.4,144.4 L97.9,145.2 L96.3,151.0 L100.4,157.5Z" fill="rgb(221,216,224)"/>
<path d="M111.4,114.0 L112.2,115.4 L113.9,115.6 L125.4,108.3 L125.7,106.7 L121.9,99.2 L120.7,98.8 L119.7,99.2 L111.3,107.1 L111.0,108.1 L111.4,114.0Z" fill="rgb(227,223,230)"/>
<path d="M194.2,8.9 L195.9,10.3 L197.4,10.2 L208.2,3.0 L208.8,1.9 L208.6,0.7 L207.0,-0.2 L192.6,0.0 L191.9,0.8 L191.7,1.9 L194.2,8.9Z" fill="rgb(222,218,225)"/>
<path d="M32.7,139.5 L31.6,140.0 L31.0,140.8 L30.5,145.9 L35.1,153.7 L37.0,153.9 L44.6,148.9 L44.9,147.3 L43.0,140.5 L42.3,139.6 L41.2,139.2 L32.7,139.5Z" fill="rgb(226,222,229)"/>
<path d="M108.6,107.3 L97.4,101.8 L86.1,106.2 L92.0,117.4 L109.3,116.6 L108.6,107.3Z" fill="rgb(216,213,219)"/>
<path d="M112.3,142.8 L112.1,144.1 L114.3,150.1 L115.1,151.0 L116.4,151.2 L117.6,150.5 L123.3,143.1 L123.6,141.8 L122.4,140.2 L115.3,139.0 L114.1,139.6 L112.3,142.8Z" fill="rgb(226,221,229)"/>
<path d="M62.8,144.8 L65.0,145.0 L75.4,134.9 L57.1,120.4 L54.0,127.8 L62.8,144.8Z" fill="rgb(219,214,222)"/>
<path d="M208.2,76.7 L208.3,78.3 L209.6,79.2 L218.7,80.4 L219.9,79.9 L220.6,78.6 L220.4,77.4 L218.2,73.8 L211.4,72.6 L209.7,73.3 L208.2,76.7Z" fill="rgb(224,221,227)"/>
<path d="M64.4,186.8 L69.9,204.9 L93.0,203.0 L101.8,180.6 L99.2,177.3 L75.9,171.4 L64.4,186.8Z" fill="rgb(216,211,219)"/>
<path d="M194.2,85.6 L194.1,86.8 L194.7,87.8 L199.6,90.8 L201.0,90.9 L205.0,86.7 L204.9,81.8 L203.4,80.6 L197.3,80.5 L196.4,81.2 L194.2,85.6Z" fill="rgb(221,216,224)"/>
<path d="M162.4,95.4 L161.4,94.2 L151.4,90.8 L147.3,92.6 L146.6,94.2 L148.4,104.5 L149.4,105.3 L150.6,105.2 L162.2,99.4 L163.0,98.0 L162.4,95.4Z" fill="rgb(223,220,226)"/>
<path d="M156.8,71.8 L155.9,70.5 L154.3,70.4 L149.7,74.2 L149.8,76.1 L153.1,79.2 L154.5,79.3 L156.8,78.4 L157.5,77.6 L156.8,71.8Z" fill="rgb(224,221,227)"/>
<path d="M39.0,52.6h0.01M223.7,168.7h0.01M148.5,77.2h0.01M38.2,7.9h0.01M0.7,88.1h0.01M221.0,8.7h0.01M190.1,166.0h0.01M208.3,187.3h0.01M183.1,120.8h0.01M131.5,197.8h0.01M180.7,115.3h0.01M26.5,60.9h0.01M195.7,11.7h0.01M183.1,167.2h0.01M197.6,128.3h0.01M68.3,165.2h0.01M96.1,177.0h0.01M148.0,148.4h0.01M225.9,126.4h0.01M160.7,97.2h0.01M25.4,109.6h0.01M145.2,128.2h0.01M14.1,157.7h0.01M225.9,23.7h0.01M28.2,108.7h0.01M166.8,39.0h0.01M86.7,56.5h0.01M25.8,152.6h0.01M203.1,199.6h0.01M121.1,28.1h0.01M222.2,201.3h0.01M46.3,43.5h0.01M133.5,34.8h0.01M2.2,201.4h0.01M155.9,152.7h0.01M111.5,148.4h0.01M118.6,177.4h0.01M188.8,96.5h0.01M104.4,184.4h0.01M201.8,138.1h0.01M121.3,16.9h0.01M6.0,178.5h0.01M17.8,38.0h0.01M168.2,113.6h0.01M174.4,80.1h0.01M115.5,129.7h0.01M32.1,169.5h0.01M114.7,150.7h0.01M113.0,130.1h0.01M89.7,21.6h0.01M14.0,192.4h0.01M189.9,135.3h0.01M197.3,193.0h0.01M227.0,26.0h0.01M13.9,189.4h0.01M123.1,88.2h0.01M213.5,21.4h0.01M97.6,117.9h0.01M30.9,51.4h0.01M91.3,15.4h0.01M18.7,142.9h0.01M187.1,182.5h0.01M177.3,9.0h0.01M17.0,186.1h0.01M211.9,30.9h0.01M155.1,7.4h0.01M115.0,199.0h0.01M15.4,98.5h0.01M88.6,86.6h0.01M117.7,90.9h0.01M102.0,42.6h0.01M58.2,74.7h0.01M193.0,166.8h0.01M164.2,27.3h0.01M217.4,121.0h0.01M219.6,186.4h0.01M149.8,93.6h0.01M187.2,204.7h0.01M157.1,81.4h0.01M52.7,1.1h0.01M116.9,64.3h0.01M133.7,182.6h0.01M120.1,105.7h0.01M11.0,80.2h0.01M180.8,48.4h0.01M31.4,2.1h0.01M34.5,146.8h0.01M176.7,44.7h0.01M199.3,170.3h0.01M125.5,184.3h0.01M61.7,204.0h0.01M204.4,17.2h0.01M71.6,128.8h0.01M111.9,82.5h0.01M128.3,92.3h0.01M181.4,63.1h0.01M101.2,144.4h0.01M57.6,43.0h0.01M3.4,5.7h0.01M27.8,37.2h0.01M185.7,52.9h0.01M118.6,199.3h0.01M220.1,36.6h0.01M190.4,73.4h0.01M152.9,134.1h0.01M130.2,73.8h0.01M30.2,142.8h0.01M194.4,71.2h0.01M119.3,49.9h0.01M132.6,163.0h0.01M92.6,153.0h0.01M130.1,59.1h0.01M135.1,107.5h0.01M188.1,31.0h0.01M225.3,33.5h0.01M101.6,23.9h0.01M127.7,128.1h0.01M26.0,8.0h0.01M100.4,198.5h0.01M90.6,139.9h0.01M101.5,185.1h0.01M208.6,116.4h0.01M134.3,198.4h0.01M166.4,113.3h0.01M65.5,126.8h0.01M150.4,187.5h0.01M1.3,136.8h0.01M192.0,2.8h0.01M2.2,14.2h0.01M175.5,136.6h0.01M104.0,53.8h0.01M94.9,189.6h0.01M82.7,44.4h0.01M104.3,34.6h0.01M160.9,144.4h0.01M139.3,79.3h0.01M55.0,122.1h0.01M169.4,186.5h0.01M177.3,124.5h0.01M128.5,93.1h0.01M160.7,96.6h0.01M191.7,202.3h0.01M27.5,102.3h0.01M212.8,48.1h0.01M116.6,123.0h0.01M49.8,57.9h0.01M65.2,115.2h0.01M113.4,136.5h0.01M191.8,164.2h0.01M57.6,116.3h0.01M217.7,139.3h0.01M205.9,130.8h0.01M95.1,117.6h0.01M7.1,102.1h0.01M16.4,2.5h0.01M57.0,113.5h0.01M207.0,100.7h0.01M97.6,2.8h0.01M193.3,174.7h0.01M194.0,2.6h0.01M140.1,127.7h0.01M202.8,58.6h0.01M196.5,186.5h0.01M12.2,39.8h0.01M8.1,192.8h0.01M108.9,108.1h0.01M198.4,157.5h0.01M37.1,142.8h0.01M133.7,117.8h0.01M65.6,43.3h0.01M229.2,157.1h0.01M165.3,7.2h0.01M190.0,104.6h0.01M161.8,113.7h0.01M134.4,17.0h0.01M0.5,188.8h0.01M120.9,175.1h0.01M156.8,135.3h0.01M68.3,145.0h0.01M27.5,170.7h0.01M7.2,96.2h0.01M43.1,32.7h0.01M212.5,176.8h0.01M70.7,29.2h0.01M186.4,97.5h0.01M57.6,1.8h0.01M171.2,154.7h0.01M85.7,103.3h0.01M80.8,109.0h0.01M134.9,41.8h0.01M135.8,170.1h0.01M78.2,3.1h0.01M202.1,52.1h0.01M226.6,156.5h0.01M128.3,90.1h0.01M169.6,145.9h0.01M76.0,124.7h0.01M76.1,61.7h0.01M150.8,150.5h0.01M207.3,151.4h0.01M71.4,18.9h0.01M215.9,175.1h0.01M229.6,70.9h0.01M24.6,161.2h0.01M74.0,166.1h0.01M46.8,29.5h0.01M136.0,64.2h0.01M27.9,50.4h0.01M155.4,202.6h0.01M13.3,204.2h0.01M108.7,82.5h0.01M107.2,204.3h0.01M131.0,132.6h0.01M11.8,183.1h0.01M156.3,50.9h0.01M157.7,119.1h0.01M114.1,57.9h0.01M53.2,15.5h0.01M116.5,98.4h0.01M95.1,181.7h0.01M216.2,195.4h0.01M56.5,33.8h0.01M114.1,189.8h0.01M209.2,203.7h0.01M21.6,145.4h0.01M22.9,174.5h0.01M222.0,44.2h0.01M196.8,144.6h0.01M63.0,168.9h0.01M126.4,63.6h0.01M46.2,76.3h0.01M210.7,36.1h0.01M120.8,56.6h0.01M177.8,3.9h0.01M29.4,147.4h0.01M165.3,62.1h0.01M143.5,66.9h0.01M93.1,189.2h0.01M198.7,201.6h0.01M74.4,166.2h0.01M115.5,135.2h0.01M223.2,82.7h0.01M166.7,8.2h0.01M216.1,12.6h0.01M2.3,150.9h0.01M204.7,200.2h0.01M193.5,82.6h0.01M118.6,3.8h0.01M170.5,133.0h0.01M112.7,174.6h0.01M209.1,156.1h0.01M28.8,16.2h0.01M219.7,148.7h0.01M124.3,30.3h0.01M170.5,28.0h0.01M200.6,28.1h0.01M191.6,122.3h0.01M25.3,30.3h0.01M46.8,204.7h0.01M164.9,59.9h0.01M133.5,181.5h0.01M215.0,15.9h0.01M36.2,87.7h0.01M130.8,39.3h0.01M164.0,192.3h0.01M109.3,14.7h0.01M211.0,190.1h0.01M200.7,143.8h0.01M108.6,187.7h0.01M146.8,131.6h0.01M13.2,148.5h0.01M76.8,150.8h0.01M38.8,20.1h0.01M220.9,118.1h0.01M203.5,24.5h0.01M87.1,58.7h0.01M32.5,94.2h0.01M182.7,133.3h0.01M122.8,152.0h0.01M161.9,204.3h0.01M76.9,188.4h0.01M23.9,73.3h0.01M64.8,123.2h0.01M63.8,35.5h0.01M92.7,38.9h0.01M134.0,95.4h0.01M226.7,182.3h0.01M169.8,190.3h0.01M25.5,77.6h0.01M190.5,40.8h0.01M32.5,21.9h0.01M74.6,152.6h0.01M139.4,102.4h0.01M166.9,174.0h0.01M121.1,153.5h0.01M182.4,177.8h0.01M34.4,67.8h0.01M186.2,79.6h0.01M77.1,113.6h0.01M66.5,1.6h0.01M29.8,144.4h0.01M180.6,91.2h0.01M204.8,172.7h0.01M84.5,187.0h0.01M113.4,171.2h0.01M220.8,89.4h0.01M40.3,41.4h0.01M154.7,141.8h0.01M62.2,152.5h0.01M143.2,161.9h0.01M229.1,112.9h0.01M88.6,132.9h0.01M188.4,18.8h0.01M189.5,78.8h0.01M116.2,51.2h0.01M159.1,199.0h0.01M210.8,116.5h0.01M58.6,57.4h0.01M31.3,198.5h0.01M168.1,111.0h0.01" stroke="#e6e3e9" stroke-width="1.3" stroke-linecap="round" opacity="0.75"/>
<path d="M0.0,128.0 L35.0,122.0 L75.0,113.0 L100.0,102.0" fill="none" stroke="#eae8ec" stroke-width="7" stroke-linecap="round" stroke-linejoin="round" opacity="1.0"/>
<path d="M99.0,157.0 L125.0,172.0 L152.0,187.0 L190.0,202.0" fill="none" stroke="#e7e5ea" stroke-width="3.0" stroke-linecap="round" stroke-linejoin="round" opacity="1.0"/>
<path d="M127.0,4.0 L159.0,37.0 L190.0,61.0 L225.0,79.0" fill="none" stroke="#eae8ec" stroke-width="5" stroke-linecap="round" stroke-linejoin="round" opacity="1.0"/>
<path d="M168.0,2.0 L190.0,20.0 L211.0,37.0" fill="none" stroke="#e9e7eb" stroke-width="3.5" stroke-linecap="round" stroke-linejoin="round" opacity="1.0"/>
<path d="M184.0,141.0 L205.0,131.0 L232.0,120.0" fill="none" stroke="#e8e6ea" stroke-width="4.5" stroke-linecap="round" stroke-linejoin="round" opacity="1.0"/>
<ellipse cx="42" cy="22" rx="26" ry="11" fill="#d0cce0" opacity="0.55" filter="url(#hb2)"/>
<ellipse cx="72.0" cy="19.5" rx="8.3" ry="10.3" transform="rotate(30 72.0 19.5)" fill="#e7e5ea"/>
<ellipse cx="116.5" cy="23.5" rx="6.3" ry="6.3" transform="rotate(0 116.5 23.5)" fill="#e7e5ea"/>
<ellipse cx="156.0" cy="17.4" rx="12.3" ry="10.3" transform="rotate(20 156.0 17.4)" fill="#e7e5ea"/>
<ellipse cx="149.2" cy="50.6" rx="7.3" ry="8.3" transform="rotate(0 149.2 50.6)" fill="#e7e5ea"/>
<ellipse cx="200.5" cy="70.7" rx="9.8" ry="9.8" transform="rotate(0 200.5 70.7)" fill="#e7e5ea"/>
<ellipse cx="123.2" cy="84.0" rx="8.3" ry="10.6" transform="rotate(0 123.2 84.0)" fill="#e7e5ea"/>
<ellipse cx="136.6" cy="98.5" rx="12.8" ry="5.8" transform="rotate(0 136.6 98.5)" fill="#e7e5ea"/>
<ellipse cx="77.6" cy="123.2" rx="12.8" ry="8.3" transform="rotate(-15 77.6 123.2)" fill="#e7e5ea"/>
<ellipse cx="105.0" cy="137.0" rx="6.3" ry="3.8" transform="rotate(0 105.0 137.0)" fill="#e7e5ea"/>
<ellipse cx="135.8" cy="119.8" rx="9.3" ry="7.0" transform="rotate(0 135.8 119.8)" fill="#e7e5ea"/>
<ellipse cx="133.5" cy="130.2" rx="8.3" ry="4.3" transform="rotate(0 133.5 130.2)" fill="#e7e5ea"/>
<ellipse cx="120.7" cy="132.0" rx="5.8" ry="4.0" transform="rotate(0 120.7 132.0)" fill="#e7e5ea"/>
<ellipse cx="162.0" cy="111.0" rx="11.8" ry="6.4" transform="rotate(0 162.0 111.0)" fill="#e7e5ea"/>
<ellipse cx="161.0" cy="119.1" rx="5.8" ry="4.6" transform="rotate(0 161.0 119.1)" fill="#e7e5ea"/>
<ellipse cx="142.7" cy="142.0" rx="7.5" ry="3.3" transform="rotate(0 142.7 142.0)" fill="#e7e5ea"/>
<ellipse cx="19.4" cy="146.8" rx="8.3" ry="4.4" transform="rotate(10 19.4 146.8)" fill="#e7e5ea"/>
<ellipse cx="26.5" cy="155.5" rx="5.8" ry="2.0" transform="rotate(0 26.5 155.5)" fill="#e7e5ea"/>
<ellipse cx="162.9" cy="132.0" rx="5.8" ry="4.2" transform="rotate(0 162.9 132.0)" fill="#e7e5ea"/>
<ellipse cx="214.0" cy="122.8" rx="8.3" ry="8.3" transform="rotate(-30 214.0 122.8)" fill="#e7e5ea"/>
<ellipse cx="122.5" cy="120.2" rx="4.3" ry="4.1" transform="rotate(0 122.5 120.2)" fill="#e7e5ea"/>
<ellipse cx="104.4" cy="125.7" rx="10.8" ry="5.4" transform="rotate(0 104.4 125.7)" fill="#e7e5ea"/>
<ellipse cx="2.0" cy="145.0" rx="4.8" ry="3.8" transform="rotate(0 2.0 145.0)" fill="#e7e5ea"/>
<ellipse cx="64.0" cy="153.0" rx="5.8" ry="3.0" transform="rotate(0 64.0 153.0)" fill="#e7e5ea"/>
<ellipse cx="188.0" cy="130.0" rx="4.8" ry="3.8" transform="rotate(0 188.0 130.0)" fill="#e7e5ea"/>
<ellipse cx="72.0" cy="19.5" rx="7.5" ry="9.5" transform="rotate(30 72.0 19.5)" fill="#dcd7de" stroke="#985a3e" stroke-width="1.0" opacity="0.7124999999999999" stroke-dasharray="2,1.5"/>
<ellipse cx="116.5" cy="23.5" rx="5.5" ry="5.5" transform="rotate(0 116.5 23.5)" fill="#dcd7de" stroke="#985a3e" stroke-width="1.0" opacity="0.855" stroke-dasharray="16,2,5,1.5"/>
<ellipse cx="156.0" cy="17.4" rx="11.5" ry="9.5" transform="rotate(20 156.0 17.4)" fill="#dcd7de" stroke="#985a3e" stroke-width="1.0" opacity="0.6174999999999999" stroke-dasharray="6,3"/>
<ellipse cx="149.2" cy="50.6" rx="6.5" ry="7.5" transform="rotate(0 149.2 50.6)" fill="#dcd7de" stroke="#985a3e" stroke-width="1.0" opacity="0.855" stroke-dasharray="16,2,5,1.5"/>
<ellipse cx="200.5" cy="70.7" rx="9.0" ry="9.0" transform="rotate(0 200.5 70.7)" fill="#dcd7de" stroke="#985a3e" stroke-width="1.0" opacity="0.8075" stroke-dasharray="16,2,5,1.5"/>
<ellipse cx="123.2" cy="84.0" rx="7.5" ry="9.8" transform="rotate(0 123.2 84.0)" fill="#dcd7de" stroke="#985a3e" stroke-width="1.0" opacity="0.855" stroke-dasharray="9,3"/>
<ellipse cx="136.6" cy="98.5" rx="12.0" ry="5.0" transform="rotate(0 136.6 98.5)" fill="#dcd7de" stroke="#985a3e" stroke-width="1.0" opacity="0.475" stroke-dasharray="16,2,5,1.5"/>
<ellipse cx="77.6" cy="123.2" rx="12.0" ry="7.5" transform="rotate(-15 77.6 123.2)" fill="#dcd7de" stroke="#985a3e" stroke-width="1.0" opacity="0.855" stroke-dasharray="16,2,5,1.5"/>
<ellipse cx="105.0" cy="137.0" rx="5.5" ry="3.0" transform="rotate(0 105.0 137.0)" fill="#dcd7de" stroke="#985a3e" stroke-width="1.0" opacity="0.855" stroke-dasharray="16,2,5,1.5"/>
<ellipse cx="135.8" cy="119.8" rx="8.5" ry="6.2" transform="rotate(0 135.8 119.8)" fill="#dcd7de" stroke="#985a3e" stroke-width="1.0" opacity="0.855" stroke-dasharray="16,2,5,1.5"/>
<ellipse cx="133.5" cy="130.2" rx="7.5" ry="3.5" transform="rotate(0 133.5 130.2)" fill="#dcd7de" stroke="#985a3e" stroke-width="1.0" opacity="0.855" stroke-dasharray="16,2,5,1.5"/>
<ellipse cx="120.7" cy="132.0" rx="5.0" ry="3.2" transform="rotate(0 120.7 132.0)" fill="#dcd7de" stroke="#985a3e" stroke-width="1.0" opacity="0.855" stroke-dasharray="16,2,5,1.5"/>
<ellipse cx="162.0" cy="111.0" rx="11.0" ry="5.6" transform="rotate(0 162.0 111.0)" fill="#dcd7de" stroke="#985a3e" stroke-width="1.0" opacity="0.8075" stroke-dasharray="16,2,5,1.5"/>
<ellipse cx="161.0" cy="119.1" rx="5.0" ry="3.8" transform="rotate(0 161.0 119.1)" fill="#dcd7de" stroke="#985a3e" stroke-width="1.0" opacity="0.76" stroke-dasharray="16,2,5,1.5"/>
<ellipse cx="142.7" cy="142.0" rx="6.7" ry="2.5" transform="rotate(0 142.7 142.0)" fill="#dcd7de" stroke="#985a3e" stroke-width="1.0" opacity="0.76" stroke-dasharray="16,2,5,1.5"/>
<ellipse cx="19.4" cy="146.8" rx="7.5" ry="3.6" transform="rotate(10 19.4 146.8)" fill="#dcd7de" stroke="#985a3e" stroke-width="1.0" opacity="0.95" stroke-dasharray="16,2,5,1.5"/>
<ellipse cx="26.5" cy="155.5" rx="5.0" ry="1.2" transform="rotate(0 26.5 155.5)" fill="#dcd7de" stroke="#985a3e" stroke-width="1.0" opacity="0.855" stroke-dasharray="16,2,5,1.5"/>
<ellipse cx="162.9" cy="132.0" rx="5.0" ry="3.4" transform="rotate(0 162.9 132.0)" fill="#dcd7de" stroke="#985a3e" stroke-width="1.0" opacity="0.76" stroke-dasharray="16,2,5,1.5"/>
<ellipse cx="214.0" cy="122.8" rx="7.5" ry="7.5" transform="rotate(-30 214.0 122.8)" fill="#dcd7de" stroke="#985a3e" stroke-width="1.0" opacity="0.4275" stroke-dasharray="16,2,5,1.5"/>
<ellipse cx="122.5" cy="120.2" rx="3.5" ry="3.3" transform="rotate(0 122.5 120.2)" fill="#dcd7de" stroke="#985a3e" stroke-width="1.0" opacity="0.76" stroke-dasharray="16,2,5,1.5"/>
<ellipse cx="104.4" cy="125.7" rx="10.0" ry="4.6" transform="rotate(0 104.4 125.7)" fill="#dcd7de" stroke="#985a3e" stroke-width="1.0" opacity="0.4275" stroke-dasharray="16,2,5,1.5"/>
<ellipse cx="2.0" cy="145.0" rx="4.0" ry="3.0" transform="rotate(0 2.0 145.0)" fill="#dcd7de" stroke="#985a3e" stroke-width="1.0" opacity="0.76" stroke-dasharray="16,2,5,1.5"/>
<ellipse cx="64.0" cy="153.0" rx="5.0" ry="2.2" transform="rotate(0 64.0 153.0)" fill="#dcd7de" stroke="#985a3e" stroke-width="1.0" opacity="0.6649999999999999" stroke-dasharray="16,2,5,1.5"/>
<ellipse cx="188.0" cy="130.0" rx="4.0" ry="3.0" transform="rotate(0 188.0 130.0)" fill="#dcd7de" stroke="#985a3e" stroke-width="1.0" opacity="0.475" stroke-dasharray="16,2,5,1.5"/>
</g><g filter="url(#hb)">
<ellipse cx="174.7" cy="112.2" rx="1.9" ry="1.4" transform="rotate(93 174.7 112.2)" fill="#766dbf" opacity="0.75"/>
<ellipse cx="95.2" cy="148.5" rx="1.4" ry="1.0" transform="rotate(104 95.2 148.5)" fill="#766dbf" opacity="0.75"/>
<ellipse cx="112.0" cy="148.5" rx="1.9" ry="1.3" transform="rotate(98 112.0 148.5)" fill="#766dbf" opacity="0.75"/>
<ellipse cx="220.2" cy="70.4" rx="1.3" ry="0.9" transform="rotate(118 220.2 70.4)" fill="#766dbf" opacity="0.75"/>
<ellipse cx="121.7" cy="112.7" rx="1.3" ry="0.9" transform="rotate(71 121.7 112.7)" fill="#766dbf" opacity="0.75"/>
<ellipse cx="171.1" cy="45.3" rx="1.4" ry="1.0" transform="rotate(170 171.1 45.3)" fill="#766dbf" opacity="0.75"/>
<ellipse cx="86.7" cy="78.5" rx="1.6" ry="1.1" transform="rotate(152 86.7 78.5)" fill="#766dbf" opacity="0.75"/>
<ellipse cx="169.6" cy="81.4" rx="1.9" ry="1.3" transform="rotate(46 169.6 81.4)" fill="#766dbf" opacity="0.75"/>
<ellipse cx="125.1" cy="180.4" rx="1.8" ry="1.3" transform="rotate(128 125.1 180.4)" fill="#766dbf" opacity="0.75"/>
<ellipse cx="150.4" cy="107.1" rx="1.6" ry="1.1" transform="rotate(170 150.4 107.1)" fill="#766dbf" opacity="0.75"/>
<ellipse cx="127.3" cy="180.4" rx="1.9" ry="1.3" transform="rotate(127 127.3 180.4)" fill="#766dbf" opacity="0.75"/>
<ellipse cx="203.4" cy="99.2" rx="1.3" ry="0.9" transform="rotate(33 203.4 99.2)" fill="#766dbf" opacity="0.75"/>
<ellipse cx="133.3" cy="88.1" rx="1.4" ry="1.0" transform="rotate(164 133.3 88.1)" fill="#766dbf" opacity="0.75"/>
<ellipse cx="219.6" cy="114.0" rx="1.4" ry="1.0" transform="rotate(83 219.6 114.0)" fill="#766dbf" opacity="0.75"/>
<ellipse cx="181.1" cy="199.8" rx="1.7" ry="1.2" transform="rotate(141 181.1 199.8)" fill="#766dbf" opacity="0.75"/>
<ellipse cx="179.2" cy="114.0" rx="1.3" ry="0.9" transform="rotate(43 179.2 114.0)" fill="#766dbf" opacity="0.75"/>
<ellipse cx="150.5" cy="71.3" rx="1.9" ry="1.3" transform="rotate(18 150.5 71.3)" fill="#766dbf" opacity="0.75"/>
<ellipse cx="80.5" cy="171.8" rx="1.6" ry="1.1" transform="rotate(37 80.5 171.8)" fill="#766dbf" opacity="0.75"/>
<ellipse cx="207.2" cy="63.3" rx="1.7" ry="1.2" transform="rotate(3 207.2 63.3)" fill="#766dbf" opacity="0.75"/>
<ellipse cx="171.1" cy="127.1" rx="1.3" ry="0.9" transform="rotate(43 171.1 127.1)" fill="#766dbf" opacity="0.75"/>
<ellipse cx="172.2" cy="82.2" rx="1.4" ry="1.0" transform="rotate(52 172.2 82.2)" fill="#766dbf" opacity="0.75"/>
<ellipse cx="170.3" cy="81.6" rx="1.5" ry="1.1" transform="rotate(47 170.3 81.6)" fill="#766dbf" opacity="0.75"/>
<ellipse cx="117.0" cy="99.5" rx="1.7" ry="1.2" transform="rotate(145 117.0 99.5)" fill="#766dbf" opacity="0.75"/>
<ellipse cx="125.5" cy="102.5" rx="1.5" ry="1.1" transform="rotate(128 125.5 102.5)" fill="#766dbf" opacity="0.75"/>
<ellipse cx="140.6" cy="69.1" rx="1.5" ry="1.0" transform="rotate(84 140.6 69.1)" fill="#766dbf" opacity="0.75"/>
<ellipse cx="220.6" cy="84.5" rx="1.9" ry="1.3" transform="rotate(41 220.6 84.5)" fill="#766dbf" opacity="0.75"/>
<ellipse cx="126.9" cy="17.3" rx="1.7" ry="1.2" transform="rotate(112 126.9 17.3)" fill="#766dbf" opacity="0.75"/>
<ellipse cx="19.0" cy="123.8" rx="1.5" ry="1.1" transform="rotate(134 19.0 123.8)" fill="#766dbf" opacity="0.75"/>
<ellipse cx="129.0" cy="116.2" rx="1.9" ry="1.3" transform="rotate(152 129.0 116.2)" fill="#766dbf" opacity="0.75"/>
<ellipse cx="80.6" cy="89.9" rx="1.3" ry="0.9" transform="rotate(96 80.6 89.9)" fill="#766dbf" opacity="0.75"/>
<ellipse cx="127.4" cy="180.4" rx="1.6" ry="1.1" transform="rotate(18 127.4 180.4)" fill="#766dbf" opacity="0.75"/>
<ellipse cx="185.2" cy="86.2" rx="1.8" ry="1.3" transform="rotate(143 185.2 86.2)" fill="#766dbf" opacity="0.75"/>
<ellipse cx="213.0" cy="71.2" rx="1.3" ry="0.9" transform="rotate(171 213.0 71.2)" fill="#766dbf" opacity="0.75"/>
<ellipse cx="151.3" cy="144.9" rx="1.5" ry="1.0" transform="rotate(15 151.3 144.9)" fill="#766dbf" opacity="0.75"/>
<ellipse cx="169.1" cy="55.9" rx="1.5" ry="1.1" transform="rotate(168 169.1 55.9)" fill="#766dbf" opacity="0.75"/>
<ellipse cx="112.4" cy="119.6" rx="1.3" ry="0.9" transform="rotate(154 112.4 119.6)" fill="#766dbf" opacity="0.75"/>
<ellipse cx="189.0" cy="98.4" rx="1.3" ry="0.9" transform="rotate(133 189.0 98.4)" fill="#766dbf" opacity="0.75"/>
<ellipse cx="207.7" cy="101.8" rx="1.9" ry="1.3" transform="rotate(36 207.7 101.8)" fill="#766dbf" opacity="0.75"/>
<ellipse cx="112.0" cy="10.5" rx="1.2" ry="0.9" transform="rotate(129 112.0 10.5)" fill="#766dbf" opacity="0.75"/>
<ellipse cx="217.4" cy="171.0" rx="1.8" ry="1.3" transform="rotate(169 217.4 171.0)" fill="#766dbf" opacity="0.75"/>
<ellipse cx="34.8" cy="158.6" rx="1.3" ry="0.9" transform="rotate(115 34.8 158.6)" fill="#766dbf" opacity="0.75"/>
<ellipse cx="133.3" cy="139.8" rx="1.3" ry="0.9" transform="rotate(134 133.3 139.8)" fill="#766dbf" opacity="0.75"/>
<ellipse cx="129.4" cy="69.1" rx="1.3" ry="0.9" transform="rotate(120 129.4 69.1)" fill="#766dbf" opacity="0.75"/>
<ellipse cx="103.6" cy="143.0" rx="1.6" ry="1.2" transform="rotate(18 103.6 143.0)" fill="#766dbf" opacity="0.75"/>
<ellipse cx="136.2" cy="169.9" rx="1.8" ry="1.3" transform="rotate(22 136.2 169.9)" fill="#766dbf" opacity="0.75"/>
<ellipse cx="184.9" cy="98.8" rx="1.4" ry="1.0" transform="rotate(163 184.9 98.8)" fill="#766dbf" opacity="0.75"/>
<ellipse cx="209.1" cy="80.7" rx="1.9" ry="1.3" transform="rotate(97 209.1 80.7)" fill="#766dbf" opacity="0.75"/>
<ellipse cx="74.5" cy="162.9" rx="1.6" ry="1.1" transform="rotate(163 74.5 162.9)" fill="#766dbf" opacity="0.75"/>
<ellipse cx="183.9" cy="74.3" rx="1.6" ry="1.2" transform="rotate(120 183.9 74.3)" fill="#766dbf" opacity="0.75"/>
<ellipse cx="150.6" cy="79.2" rx="1.4" ry="1.0" transform="rotate(39 150.6 79.2)" fill="#766dbf" opacity="0.75"/>
<ellipse cx="158.7" cy="73.5" rx="1.7" ry="1.2" transform="rotate(100 158.7 73.5)" fill="#766dbf" opacity="0.75"/>
<ellipse cx="177.2" cy="83.7" rx="1.5" ry="1.1" transform="rotate(47 177.2 83.7)" fill="#766dbf" opacity="0.75"/>
<ellipse cx="17.6" cy="155.5" rx="1.9" ry="1.3" transform="rotate(9 17.6 155.5)" fill="#766dbf" opacity="0.75"/>
<ellipse cx="165.2" cy="115.5" rx="1.8" ry="1.3" transform="rotate(146 165.2 115.5)" fill="#766dbf" opacity="0.75"/>
<ellipse cx="224.4" cy="108.0" rx="1.5" ry="1.1" transform="rotate(120 224.4 108.0)" fill="#766dbf" opacity="0.75"/>
<ellipse cx="151.6" cy="80.1" rx="1.7" ry="1.2" transform="rotate(58 151.6 80.1)" fill="#766dbf" opacity="0.75"/>
<ellipse cx="142.8" cy="5.0" rx="1.7" ry="1.2" transform="rotate(36 142.8 5.0)" fill="#766dbf" opacity="0.75"/>
<ellipse cx="52.0" cy="110.2" rx="1.5" ry="1.1" transform="rotate(118 52.0 110.2)" fill="#766dbf" opacity="0.75"/>
<ellipse cx="191.5" cy="87.6" rx="1.3" ry="0.9" transform="rotate(120 191.5 87.6)" fill="#766dbf" opacity="0.75"/>
<ellipse cx="112.9" cy="134.7" rx="1.6" ry="1.1" transform="rotate(100 112.9 134.7)" fill="#766dbf" opacity="0.75"/>
<ellipse cx="112.5" cy="133.3" rx="1.6" ry="1.1" transform="rotate(18 112.5 133.3)" fill="#766dbf" opacity="0.75"/>
<ellipse cx="97.8" cy="131.7" rx="1.5" ry="1.1" transform="rotate(60 97.8 131.7)" fill="#766dbf" opacity="0.75"/>
<ellipse cx="111.0" cy="105.2" rx="1.5" ry="1.1" transform="rotate(75 111.0 105.2)" fill="#766dbf" opacity="0.75"/>
<ellipse cx="109.2" cy="87.6" rx="1.7" ry="1.2" transform="rotate(32 109.2 87.6)" fill="#766dbf" opacity="0.75"/>
<ellipse cx="117.1" cy="153.2" rx="1.6" ry="1.2" transform="rotate(153 117.1 153.2)" fill="#766dbf" opacity="0.75"/>
<ellipse cx="74.0" cy="156.3" rx="1.3" ry="0.9" transform="rotate(169 74.0 156.3)" fill="#766dbf" opacity="0.75"/>
<ellipse cx="102.2" cy="25.6" rx="1.6" ry="1.1" transform="rotate(94 102.2 25.6)" fill="#766dbf" opacity="0.75"/>
<ellipse cx="166.1" cy="67.9" rx="1.7" ry="1.2" transform="rotate(85 166.1 67.9)" fill="#766dbf" opacity="0.75"/>
<ellipse cx="194.3" cy="114.0" rx="1.4" ry="1.0" transform="rotate(26 194.3 114.0)" fill="#766dbf" opacity="0.75"/>
<ellipse cx="183.3" cy="126.1" rx="1.9" ry="1.3" transform="rotate(27 183.3 126.1)" fill="#766dbf" opacity="0.75"/>
<ellipse cx="105.5" cy="105.0" rx="1.3" ry="0.9" transform="rotate(167 105.5 105.0)" fill="#766dbf" opacity="0.75"/>
<ellipse cx="122.8" cy="126.3" rx="1.2" ry="0.9" transform="rotate(133 122.8 126.3)" fill="#766dbf" opacity="0.75"/>
<ellipse cx="139.8" cy="134.8" rx="1.2" ry="0.9" transform="rotate(63 139.8 134.8)" fill="#766dbf" opacity="0.75"/>
<ellipse cx="128.1" cy="69.0" rx="1.9" ry="1.3" transform="rotate(19 128.1 69.0)" fill="#766dbf" opacity="0.75"/>
<ellipse cx="155.5" cy="139.7" rx="1.8" ry="1.3" transform="rotate(29 155.5 139.7)" fill="#766dbf" opacity="0.75"/>
<ellipse cx="65.2" cy="145.8" rx="1.9" ry="1.3" transform="rotate(116 65.2 145.8)" fill="#766dbf" opacity="0.75"/>
<ellipse cx="143.1" cy="134.2" rx="1.4" ry="1.0" transform="rotate(99 143.1 134.2)" fill="#766dbf" opacity="0.75"/>
<ellipse cx="90.6" cy="130.0" rx="1.8" ry="1.3" transform="rotate(175 90.6 130.0)" fill="#766dbf" opacity="0.75"/>
<ellipse cx="128.8" cy="109.0" rx="1.3" ry="0.9" transform="rotate(63 128.8 109.0)" fill="#766dbf" opacity="0.75"/>
<ellipse cx="124.6" cy="139.0" rx="1.8" ry="1.3" transform="rotate(36 124.6 139.0)" fill="#766dbf" opacity="0.75"/>
<ellipse cx="147.4" cy="90.7" rx="1.3" ry="0.9" transform="rotate(121 147.4 90.7)" fill="#766dbf" opacity="0.75"/>
<ellipse cx="134.3" cy="86.0" rx="1.6" ry="1.1" transform="rotate(111 134.3 86.0)" fill="#766dbf" opacity="0.75"/>
<ellipse cx="17.4" cy="157.3" rx="1.3" ry="0.9" transform="rotate(102 17.4 157.3)" fill="#766dbf" opacity="0.75"/>
<ellipse cx="97.7" cy="156.2" rx="1.5" ry="1.0" transform="rotate(7 97.7 156.2)" fill="#766dbf" opacity="0.75"/>
<ellipse cx="105.9" cy="131.3" rx="1.7" ry="1.2" transform="rotate(165 105.9 131.3)" fill="#766dbf" opacity="0.75"/>
<ellipse cx="138.7" cy="83.9" rx="1.8" ry="1.3" transform="rotate(9 138.7 83.9)" fill="#766dbf" opacity="0.75"/>
<ellipse cx="193.6" cy="65.1" rx="1.2" ry="0.9" transform="rotate(102 193.6 65.1)" fill="#766dbf" opacity="0.75"/>
<ellipse cx="108.3" cy="143.3" rx="1.4" ry="1.0" transform="rotate(66 108.3 143.3)" fill="#766dbf" opacity="0.75"/>
<ellipse cx="132.8" cy="83.4" rx="1.9" ry="1.4" transform="rotate(38 132.8 83.4)" fill="#766dbf" opacity="0.75"/>
<ellipse cx="37.0" cy="176.1" rx="1.3" ry="0.9" transform="rotate(129 37.0 176.1)" fill="#766dbf" opacity="0.75"/>
<ellipse cx="16.3" cy="154.8" rx="1.3" ry="0.9" transform="rotate(164 16.3 154.8)" fill="#766dbf" opacity="0.75"/>
<ellipse cx="183.8" cy="85.9" rx="1.9" ry="1.3" transform="rotate(37 183.8 85.9)" fill="#766dbf" opacity="0.75"/>
<ellipse cx="138.4" cy="84.3" rx="1.4" ry="1.0" transform="rotate(24 138.4 84.3)" fill="#766dbf" opacity="0.75"/>
<ellipse cx="95.8" cy="131.8" rx="1.2" ry="0.9" transform="rotate(137 95.8 131.8)" fill="#766dbf" opacity="0.75"/>
<ellipse cx="217.2" cy="71.9" rx="1.8" ry="1.3" transform="rotate(93 217.2 71.9)" fill="#766dbf" opacity="0.75"/>
<ellipse cx="171.1" cy="129.0" rx="1.7" ry="1.2" transform="rotate(31 171.1 129.0)" fill="#766dbf" opacity="0.75"/>
<ellipse cx="6.9" cy="194.4" rx="1.4" ry="1.0" transform="rotate(143 6.9 194.4)" fill="#766dbf" opacity="0.75"/>
<ellipse cx="49.8" cy="151.4" rx="1.5" ry="1.1" transform="rotate(57 49.8 151.4)" fill="#766dbf" opacity="0.75"/>
<ellipse cx="221.3" cy="91.2" rx="1.3" ry="0.9" transform="rotate(178 221.3 91.2)" fill="#766dbf" opacity="0.75"/>
<ellipse cx="140.9" cy="81.2" rx="1.8" ry="1.3" transform="rotate(146 140.9 81.2)" fill="#766dbf" opacity="0.75"/>
<ellipse cx="118.6" cy="151.8" rx="1.6" ry="1.1" transform="rotate(127 118.6 151.8)" fill="#766dbf" opacity="0.75"/>
<ellipse cx="139.1" cy="155.7" rx="1.8" ry="1.3" transform="rotate(39 139.1 155.7)" fill="#766dbf" opacity="0.75"/>
<ellipse cx="43.7" cy="151.5" rx="1.4" ry="1.0" transform="rotate(65 43.7 151.5)" fill="#766dbf" opacity="0.75"/>
<ellipse cx="182.1" cy="135.8" rx="1.5" ry="1.0" transform="rotate(98 182.1 135.8)" fill="#766dbf" opacity="0.75"/>
<ellipse cx="218.1" cy="113.9" rx="1.4" ry="1.0" transform="rotate(76 218.1 113.9)" fill="#766dbf" opacity="0.75"/>
<ellipse cx="207.7" cy="73.7" rx="1.8" ry="1.3" transform="rotate(138 207.7 73.7)" fill="#766dbf" opacity="0.75"/>
<ellipse cx="141.9" cy="109.4" rx="1.8" ry="1.3" transform="rotate(144 141.9 109.4)" fill="#766dbf" opacity="0.75"/>
<ellipse cx="115.0" cy="71.7" rx="1.7" ry="1.2" transform="rotate(108 115.0 71.7)" fill="#766dbf" opacity="0.75"/>
<ellipse cx="57.0" cy="159.7" rx="1.7" ry="1.2" transform="rotate(103 57.0 159.7)" fill="#766dbf" opacity="0.75"/>
<ellipse cx="221.1" cy="88.7" rx="1.4" ry="1.0" transform="rotate(3 221.1 88.7)" fill="#766dbf" opacity="0.75"/>
<ellipse cx="160.5" cy="102.0" rx="1.8" ry="1.3" transform="rotate(83 160.5 102.0)" fill="#766dbf" opacity="0.75"/>
<ellipse cx="117.4" cy="99.1" rx="1.4" ry="1.0" transform="rotate(29 117.4 99.1)" fill="#766dbf" opacity="0.75"/>
<ellipse cx="174.1" cy="70.4" rx="1.2" ry="0.9" transform="rotate(50 174.1 70.4)" fill="#766dbf" opacity="0.75"/>
<ellipse cx="167.6" cy="136.4" rx="1.6" ry="1.1" transform="rotate(173 167.6 136.4)" fill="#766dbf" opacity="0.75"/>
<ellipse cx="20.5" cy="46.5" rx="1.3" ry="0.9" transform="rotate(168 20.5 46.5)" fill="#766dbf" opacity="0.75"/>
<ellipse cx="172.3" cy="82.2" rx="1.5" ry="1.1" transform="rotate(57 172.3 82.2)" fill="#766dbf" opacity="0.75"/>
<ellipse cx="116.3" cy="137.4" rx="1.6" ry="1.1" transform="rotate(19 116.3 137.4)" fill="#766dbf" opacity="0.75"/>
<ellipse cx="112.6" cy="120.1" rx="1.5" ry="1.1" transform="rotate(72 112.6 120.1)" fill="#766dbf" opacity="0.75"/>
<ellipse cx="196.0" cy="100.7" rx="1.3" ry="0.9" transform="rotate(61 196.0 100.7)" fill="#766dbf" opacity="0.75"/>
<ellipse cx="143.1" cy="64.3" rx="1.9" ry="1.4" transform="rotate(45 143.1 64.3)" fill="#766dbf" opacity="0.75"/>
<ellipse cx="17.6" cy="158.8" rx="1.4" ry="1.0" transform="rotate(74 17.6 158.8)" fill="#766dbf" opacity="0.75"/>
<ellipse cx="177.3" cy="156.5" rx="1.4" ry="1.0" transform="rotate(97 177.3 156.5)" fill="#766dbf" opacity="0.75"/>
<ellipse cx="127.0" cy="139.5" rx="1.7" ry="1.2" transform="rotate(29 127.0 139.5)" fill="#766dbf" opacity="0.75"/>
<ellipse cx="119.8" cy="14.1" rx="1.9" ry="1.3" transform="rotate(151 119.8 14.1)" fill="#766dbf" opacity="0.75"/>
<ellipse cx="17.6" cy="159.2" rx="1.4" ry="1.0" transform="rotate(65 17.6 159.2)" fill="#766dbf" opacity="0.75"/>
<ellipse cx="220.6" cy="146.6" rx="1.5" ry="1.1" transform="rotate(103 220.6 146.6)" fill="#766dbf" opacity="0.75"/>
<ellipse cx="11.2" cy="49.4" rx="1.8" ry="1.3" transform="rotate(120 11.2 49.4)" fill="#766dbf" opacity="0.75"/>
<ellipse cx="135.6" cy="109.1" rx="1.9" ry="1.4" transform="rotate(66 135.6 109.1)" fill="#766dbf" opacity="0.75"/>
<ellipse cx="113.1" cy="135.2" rx="1.2" ry="0.9" transform="rotate(34 113.1 135.2)" fill="#766dbf" opacity="0.75"/>
<ellipse cx="114.8" cy="137.2" rx="1.6" ry="1.2" transform="rotate(81 114.8 137.2)" fill="#766dbf" opacity="0.75"/>
<ellipse cx="173.3" cy="82.5" rx="1.3" ry="0.9" transform="rotate(144 173.3 82.5)" fill="#766dbf" opacity="0.75"/>
<ellipse cx="107.2" cy="89.9" rx="1.8" ry="1.3" transform="rotate(39 107.2 89.9)" fill="#766dbf" opacity="0.75"/>
<ellipse cx="143.3" cy="21.2" rx="1.4" ry="1.0" transform="rotate(158 143.3 21.2)" fill="#766dbf" opacity="0.75"/>
<ellipse cx="116.3" cy="137.5" rx="1.5" ry="1.1" transform="rotate(42 116.3 137.5)" fill="#766dbf" opacity="0.75"/>
<ellipse cx="140.4" cy="134.3" rx="1.2" ry="0.9" transform="rotate(50 140.4 134.3)" fill="#766dbf" opacity="0.75"/>
<ellipse cx="111.2" cy="131.0" rx="1.7" ry="1.2" transform="rotate(83 111.2 131.0)" fill="#766dbf" opacity="0.75"/>
<ellipse cx="216.2" cy="175.5" rx="1.7" ry="1.2" transform="rotate(121 216.2 175.5)" fill="#766dbf" opacity="0.75"/>
<ellipse cx="152.3" cy="59.4" rx="1.3" ry="0.9" transform="rotate(152 152.3 59.4)" fill="#766dbf" opacity="0.75"/>
<ellipse cx="75.8" cy="158.2" rx="1.7" ry="1.2" transform="rotate(26 75.8 158.2)" fill="#766dbf" opacity="0.75"/>
<ellipse cx="122.3" cy="180.4" rx="1.3" ry="0.9" transform="rotate(171 122.3 180.4)" fill="#766dbf" opacity="0.75"/>
<ellipse cx="222.1" cy="100.4" rx="1.9" ry="1.3" transform="rotate(96 222.1 100.4)" fill="#766dbf" opacity="0.75"/>
<ellipse cx="206.3" cy="80.1" rx="1.7" ry="1.2" transform="rotate(111 206.3 80.1)" fill="#766dbf" opacity="0.75"/>
<ellipse cx="190.4" cy="99.1" rx="1.5" ry="1.0" transform="rotate(132 190.4 99.1)" fill="#766dbf" opacity="0.75"/>
<ellipse cx="66.1" cy="145.0" rx="1.6" ry="1.1" transform="rotate(134 66.1 145.0)" fill="#766dbf" opacity="0.75"/>
<ellipse cx="49.1" cy="107.9" rx="1.7" ry="1.2" transform="rotate(23 49.1 107.9)" fill="#766dbf" opacity="0.75"/>
<ellipse cx="180.7" cy="115.4" rx="1.6" ry="1.2" transform="rotate(46 180.7 115.4)" fill="#766dbf" opacity="0.75"/>
<ellipse cx="80.1" cy="134.7" rx="1.4" ry="1.0" transform="rotate(23 80.1 134.7)" fill="#766dbf" opacity="0.75"/>
<ellipse cx="18.5" cy="166.5" rx="1.5" ry="1.1" transform="rotate(17 18.5 166.5)" fill="#766dbf" opacity="0.75"/>
<ellipse cx="139.7" cy="15.8" rx="1.4" ry="1.0" transform="rotate(66 139.7 15.8)" fill="#766dbf" opacity="0.75"/>
<ellipse cx="201.3" cy="96.2" rx="1.7" ry="1.2" transform="rotate(26 201.3 96.2)" fill="#766dbf" opacity="0.75"/>
<ellipse cx="222.8" cy="64.5" rx="1.2" ry="0.9" transform="rotate(147 222.8 64.5)" fill="#766dbf" opacity="0.75"/>
<ellipse cx="110.5" cy="31.4" rx="1.3" ry="0.9" transform="rotate(61 110.5 31.4)" fill="#766dbf" opacity="0.75"/>
<ellipse cx="189.4" cy="98.6" rx="1.8" ry="1.2" transform="rotate(161 189.4 98.6)" fill="#766dbf" opacity="0.75"/>
<ellipse cx="123.7" cy="42.7" rx="1.8" ry="1.3" transform="rotate(42 123.7 42.7)" fill="#766dbf" opacity="0.75"/>
<ellipse cx="100.2" cy="131.6" rx="1.2" ry="0.9" transform="rotate(64 100.2 131.6)" fill="#766dbf" opacity="0.75"/>
<ellipse cx="147.5" cy="136.8" rx="1.3" ry="0.9" transform="rotate(52 147.5 136.8)" fill="#766dbf" opacity="0.75"/>
<ellipse cx="206.7" cy="84.5" rx="1.8" ry="1.3" transform="rotate(8 206.7 84.5)" fill="#766dbf" opacity="0.75"/>
<ellipse cx="129.0" cy="114.7" rx="1.5" ry="1.1" transform="rotate(46 129.0 114.7)" fill="#766dbf" opacity="0.75"/>
<ellipse cx="153.0" cy="141.3" rx="1.4" ry="1.0" transform="rotate(51 153.0 141.3)" fill="#766dbf" opacity="0.75"/>
<ellipse cx="149.8" cy="148.1" rx="1.6" ry="1.2" transform="rotate(121 149.8 148.1)" fill="#766dbf" opacity="0.75"/>
<ellipse cx="130.5" cy="140.4" rx="1.8" ry="1.3" transform="rotate(70 130.5 140.4)" fill="#766dbf" opacity="0.75"/>
<ellipse cx="117.4" cy="71.5" rx="1.9" ry="1.3" transform="rotate(149 117.4 71.5)" fill="#766dbf" opacity="0.75"/>
<ellipse cx="40.1" cy="177.8" rx="1.7" ry="1.2" transform="rotate(58 40.1 177.8)" fill="#766dbf" opacity="0.75"/>
<ellipse cx="195.7" cy="79.2" rx="1.4" ry="1.0" transform="rotate(119 195.7 79.2)" fill="#766dbf" opacity="0.75"/>
<ellipse cx="149.8" cy="30.9" rx="1.6" ry="1.1" transform="rotate(27 149.8 30.9)" fill="#766dbf" opacity="0.75"/>
<ellipse cx="147.5" cy="111.2" rx="1.4" ry="1.0" transform="rotate(166 147.5 111.2)" fill="#766dbf" opacity="0.75"/>
<ellipse cx="181.6" cy="71.0" rx="1.2" ry="0.9" transform="rotate(37 181.6 71.0)" fill="#766dbf" opacity="0.75"/>
<ellipse cx="170.9" cy="115.8" rx="1.9" ry="1.3" transform="rotate(40 170.9 115.8)" fill="#766dbf" opacity="0.75"/>
<ellipse cx="66.8" cy="147.6" rx="1.7" ry="1.2" transform="rotate(98 66.8 147.6)" fill="#766dbf" opacity="0.75"/>
<ellipse cx="96.8" cy="143.2" rx="1.4" ry="1.0" transform="rotate(61 96.8 143.2)" fill="#766dbf" opacity="0.75"/>
<ellipse cx="193.0" cy="119.7" rx="1.9" ry="1.3" transform="rotate(68 193.0 119.7)" fill="#766dbf" opacity="0.75"/>
<ellipse cx="33.8" cy="12.8" rx="1.3" ry="0.9" transform="rotate(110 33.8 12.8)" fill="#766dbf" opacity="0.55"/>
<ellipse cx="42.7" cy="18.8" rx="1.2" ry="0.9" transform="rotate(164 42.7 18.8)" fill="#766dbf" opacity="0.55"/>
<ellipse cx="51.9" cy="20.8" rx="1.4" ry="1.0" transform="rotate(171 51.9 20.8)" fill="#766dbf" opacity="0.55"/>
<ellipse cx="20.5" cy="30.3" rx="1.4" ry="1.0" transform="rotate(71 20.5 30.3)" fill="#766dbf" opacity="0.55"/>
<ellipse cx="58.7" cy="19.6" rx="1.1" ry="0.8" transform="rotate(134 58.7 19.6)" fill="#766dbf" opacity="0.55"/>
<ellipse cx="59.4" cy="30.8" rx="1.2" ry="0.9" transform="rotate(137 59.4 30.8)" fill="#766dbf" opacity="0.55"/>
<ellipse cx="44.3" cy="7.7" rx="1.1" ry="0.8" transform="rotate(44 44.3 7.7)" fill="#766dbf" opacity="0.55"/>
<ellipse cx="30.7" cy="27.8" rx="1.2" ry="0.9" transform="rotate(150 30.7 27.8)" fill="#766dbf" opacity="0.55"/>
<ellipse cx="32.6" cy="14.8" rx="1.1" ry="0.8" transform="rotate(167 32.6 14.8)" fill="#766dbf" opacity="0.55"/>
<ellipse cx="28.3" cy="7.0" rx="1.1" ry="0.8" transform="rotate(21 28.3 7.0)" fill="#766dbf" opacity="0.55"/>
<ellipse cx="32.7" cy="6.8" rx="1.5" ry="1.1" transform="rotate(68 32.7 6.8)" fill="#766dbf" opacity="0.55"/>
<ellipse cx="63.8" cy="28.3" rx="1.1" ry="0.8" transform="rotate(12 63.8 28.3)" fill="#766dbf" opacity="0.55"/>
<ellipse cx="32.6" cy="33.9" rx="1.5" ry="1.1" transform="rotate(138 32.6 33.9)" fill="#766dbf" opacity="0.55"/>
<ellipse cx="61.4" cy="15.9" rx="1.3" ry="0.9" transform="rotate(80 61.4 15.9)" fill="#766dbf" opacity="0.55"/>
<circle cx="86" cy="153" r="1.1" fill="#2a2060"/>
</g>
</svg>
<text x="477.40" y="28.20" font-size="21" font-family="'Liberation Serif', serif" font-weight="bold" fill="#000" textLength="28.10" lengthAdjust="spacingAndGlyphs" >(C)</text>
<line x1="559.70" y1="60.30" x2="559.70" y2="247.40" stroke="#000" stroke-width="2.5" />
<line x1="554.00" y1="246.20" x2="685.00" y2="246.20" stroke="#000" stroke-width="2.5" />
<line x1="554.20" y1="246.20" x2="559.70" y2="246.20" stroke="#000" stroke-width="2" />
<text x="551.30" y="250.80" font-size="13" font-family="'Liberation Sans', sans-serif" font-weight="bold" fill="#111" text-anchor="end" >0</text>
<line x1="554.20" y1="205.32" x2="559.70" y2="205.32" stroke="#000" stroke-width="2" />
<text x="551.30" y="209.92" font-size="13" font-family="'Liberation Sans', sans-serif" font-weight="bold" fill="#111" text-anchor="end" >50</text>
<line x1="554.20" y1="164.45" x2="559.70" y2="164.45" stroke="#000" stroke-width="2" />
<text x="551.30" y="169.05" font-size="13" font-family="'Liberation Sans', sans-serif" font-weight="bold" fill="#111" text-anchor="end" >100</text>
<line x1="554.20" y1="123.57" x2="559.70" y2="123.57" stroke="#000" stroke-width="2" />
<text x="551.30" y="128.17" font-size="13" font-family="'Liberation Sans', sans-serif" font-weight="bold" fill="#111" text-anchor="end" >150</text>
<line x1="554.20" y1="82.70" x2="559.70" y2="82.70" stroke="#000" stroke-width="2" />
<text x="551.30" y="87.30" font-size="13" font-family="'Liberation Sans', sans-serif" font-weight="bold" fill="#111" text-anchor="end" >200</text>
<line x1="621.50" y1="246.20" x2="621.50" y2="252.80" stroke="#000" stroke-width="2" />
<text x="621.50" y="267.00" font-size="14" font-family="'Liberation Sans', sans-serif" font-weight="bold" fill="#111" text-anchor="middle" textLength="45.90" lengthAdjust="spacingAndGlyphs" >FSHD2</text>
<text x="519.20" y="261.50" font-size="15" font-family="'Liberation Sans', sans-serif" font-weight="normal" fill="#111" textLength="233.00" lengthAdjust="spacingAndGlyphs" transform="rotate(-90 519.20 261.50)" stroke="#111" stroke-width="0.4">Spectrim-positive fibers/section</text>
<line x1="621.50" y1="119.00" x2="621.50" y2="183.90" stroke="#f01010" stroke-width="1.6" />
<line x1="606.20" y1="119.00" x2="636.80" y2="119.00" stroke="#f01010" stroke-width="1.6" />
<line x1="606.20" y1="183.90" x2="636.80" y2="183.90" stroke="#f01010" stroke-width="1.6" />
<circle cx="621.50" cy="79.00" r="3.60" fill="#000" />
<circle cx="599.20" cy="115.90" r="3.60" fill="#000" />
<circle cx="614.00" cy="121.60" r="3.60" fill="#000" />
<circle cx="643.70" cy="123.30" r="3.60" fill="#000" />
<circle cx="614.00" cy="130.60" r="3.60" fill="#000" />
<circle cx="628.80" cy="129.80" r="3.60" fill="#000" />
<circle cx="614.00" cy="137.90" r="3.60" fill="#000" />
<circle cx="599.20" cy="141.30" r="3.60" fill="#000" />
<circle cx="614.00" cy="145.50" r="3.60" fill="#000" />
<circle cx="628.80" cy="145.50" r="3.60" fill="#000" />
<circle cx="628.80" cy="165.10" r="3.60" fill="#000" />
<circle cx="599.20" cy="170.00" r="3.60" fill="#000" />
<circle cx="628.80" cy="174.10" r="3.60" fill="#000" />
<circle cx="614.00" cy="175.90" r="3.60" fill="#000" />
<circle cx="606.70" cy="188.10" r="3.60" fill="#000" />
<circle cx="621.50" cy="190.80" r="3.60" fill="#000" />
<circle cx="636.20" cy="190.80" r="3.60" fill="#000" />
<circle cx="621.50" cy="201.40" r="3.60" fill="#000" />
<line x1="590.70" y1="151.30" x2="652.10" y2="151.30" stroke="#f01010" stroke-width="1.6" />
<line x1="621.50" y1="119.00" x2="621.50" y2="183.90" stroke="#f01010" stroke-width="1.6" />
<text x="14.20" y="333.80" font-size="21" font-family="'Liberation Serif', serif" font-weight="bold" fill="#000" textLength="28.00" lengthAdjust="spacingAndGlyphs" >(D)</text>
<line x1="81.30" y1="365.20" x2="81.30" y2="545.60" stroke="#8a8a8a" stroke-width="1" />
<line x1="81.30" y1="545.60" x2="247.20" y2="545.60" stroke="#8a8a8a" stroke-width="1" />
<line x1="79.30" y1="545.60" x2="81.30" y2="545.60" stroke="#8a8a8a" stroke-width="1" />
<text x="78.80" y="548.60" font-size="9" font-family="'Liberation Serif', serif" font-weight="bold" fill="#111" text-anchor="end" textLength="12.60" lengthAdjust="spacingAndGlyphs" stroke="#111" stroke-width="0.2">0.0</text>
<line x1="79.30" y1="515.54" x2="81.30" y2="515.54" stroke="#8a8a8a" stroke-width="1" />
<text x="78.80" y="518.54" font-size="9" font-family="'Liberation Serif', serif" font-weight="bold" fill="#111" text-anchor="end" textLength="12.60" lengthAdjust="spacingAndGlyphs" stroke="#111" stroke-width="0.2">0.2</text>
<line x1="79.30" y1="485.48" x2="81.30" y2="485.48" stroke="#8a8a8a" stroke-width="1" />
<text x="78.80" y="488.48" font-size="9" font-family="'Liberation Serif', serif" font-weight="bold" fill="#111" text-anchor="end" textLength="12.60" lengthAdjust="spacingAndGlyphs" stroke="#111" stroke-width="0.2">0.4</text>
<line x1="79.30" y1="455.42" x2="81.30" y2="455.42" stroke="#8a8a8a" stroke-width="1" />
<text x="78.80" y="458.42" font-size="9" font-family="'Liberation Serif', serif" font-weight="bold" fill="#111" text-anchor="end" textLength="12.60" lengthAdjust="spacingAndGlyphs" stroke="#111" stroke-width="0.2">0.6</text>
<line x1="79.30" y1="425.36" x2="81.30" y2="425.36" stroke="#8a8a8a" stroke-width="1" />
<text x="78.80" y="428.36" font-size="9" font-family="'Liberation Serif', serif" font-weight="bold" fill="#111" text-anchor="end" textLength="12.60" lengthAdjust="spacingAndGlyphs" stroke="#111" stroke-width="0.2">0.8</text>
<line x1="79.30" y1="395.30" x2="81.30" y2="395.30" stroke="#8a8a8a" stroke-width="1" />
<text x="78.80" y="398.30" font-size="9" font-family="'Liberation Serif', serif" font-weight="bold" fill="#111" text-anchor="end" textLength="12.60" lengthAdjust="spacingAndGlyphs" stroke="#111" stroke-width="0.2">1.0</text>
<line x1="79.30" y1="365.24" x2="81.30" y2="365.24" stroke="#8a8a8a" stroke-width="1" />
<text x="78.80" y="368.24" font-size="9" font-family="'Liberation Serif', serif" font-weight="bold" fill="#111" text-anchor="end" textLength="12.60" lengthAdjust="spacingAndGlyphs" stroke="#111" stroke-width="0.2">1.2</text>
<line x1="81.30" y1="545.60" x2="81.30" y2="547.80" stroke="#8a8a8a" stroke-width="1" />
<text x="81.30" y="557.40" font-size="9" font-family="'Liberation Serif', serif" font-weight="bold" fill="#111" text-anchor="middle" stroke="#111" stroke-width="0.2">0</text>
<line x1="114.50" y1="545.60" x2="114.50" y2="547.80" stroke="#8a8a8a" stroke-width="1" />
<text x="114.50" y="557.40" font-size="9" font-family="'Liberation Serif', serif" font-weight="bold" fill="#111" text-anchor="middle" stroke="#111" stroke-width="0.2">2</text>
<line x1="147.70" y1="545.60" x2="147.70" y2="547.80" stroke="#8a8a8a" stroke-width="1" />
<text x="147.70" y="557.40" font-size="9" font-family="'Liberation Serif', serif" font-weight="bold" fill="#111" text-anchor="middle" stroke="#111" stroke-width="0.2">4</text>
<line x1="180.90" y1="545.60" x2="180.90" y2="547.80" stroke="#8a8a8a" stroke-width="1" />
<text x="180.90" y="557.40" font-size="9" font-family="'Liberation Serif', serif" font-weight="bold" fill="#111" text-anchor="middle" stroke="#111" stroke-width="0.2">6</text>
<line x1="214.10" y1="545.60" x2="214.10" y2="547.80" stroke="#8a8a8a" stroke-width="1" />
<text x="214.10" y="557.40" font-size="9" font-family="'Liberation Serif', serif" font-weight="bold" fill="#111" text-anchor="middle" stroke="#111" stroke-width="0.2">8</text>
<line x1="247.30" y1="545.60" x2="247.30" y2="547.80" stroke="#8a8a8a" stroke-width="1" />
<text x="247.30" y="557.40" font-size="9" font-family="'Liberation Serif', serif" font-weight="bold" fill="#111" text-anchor="middle" stroke="#111" stroke-width="0.2">10</text>
<text x="151.50" y="570.40" font-size="12.5" font-family="'Liberation Serif', serif" font-weight="bold" fill="#000" textLength="25.60" lengthAdjust="spacingAndGlyphs" >Days</text>
<text x="62.50" y="514.40" font-size="13" font-family="'Liberation Serif', serif" font-weight="bold" fill="#000" textLength="129.00" lengthAdjust="spacingAndGlyphs" transform="rotate(-90 62.50 514.40)" >Relative mRNA levels</text>
<rect x="192.00" y="386.70" width="5.10" height="5.10" fill="#000" />
<text x="200.60" y="392.80" font-size="11.5" font-family="'Liberation Serif', serif" font-weight="bold" fill="#000" textLength="29.50" lengthAdjust="spacingAndGlyphs" >DUX4</text>
<line x1="131.50" y1="438.89" x2="131.50" y2="468.95" stroke="#999" stroke-width="0.9" />
<line x1="129.10" y1="438.89" x2="133.90" y2="438.89" stroke="#999" stroke-width="0.9" />
<line x1="129.10" y1="468.95" x2="133.90" y2="468.95" stroke="#999" stroke-width="0.9" />
<line x1="147.50" y1="382.07" x2="147.50" y2="400.71" stroke="#999" stroke-width="0.9" />
<line x1="145.10" y1="382.07" x2="149.90" y2="382.07" stroke="#999" stroke-width="0.9" />
<line x1="145.10" y1="400.71" x2="149.90" y2="400.71" stroke="#999" stroke-width="0.9" />
<line x1="164.50" y1="423.86" x2="164.50" y2="450.91" stroke="#999" stroke-width="0.9" />
<line x1="162.10" y1="423.86" x2="166.90" y2="423.86" stroke="#999" stroke-width="0.9" />
<line x1="162.10" y1="450.91" x2="166.90" y2="450.91" stroke="#999" stroke-width="0.9" />
<line x1="197.50" y1="450.91" x2="197.50" y2="486.98" stroke="#999" stroke-width="0.9" />
<line x1="195.10" y1="450.91" x2="199.90" y2="450.91" stroke="#999" stroke-width="0.9" />
<line x1="195.10" y1="486.98" x2="199.90" y2="486.98" stroke="#999" stroke-width="0.9" />
<line x1="230.50" y1="472.70" x2="230.50" y2="493.75" stroke="#999" stroke-width="0.9" />
<line x1="228.10" y1="472.70" x2="232.90" y2="472.70" stroke="#999" stroke-width="0.9" />
<line x1="228.10" y1="493.75" x2="232.90" y2="493.75" stroke="#999" stroke-width="0.9" />
<polyline points="97.90,536.88 114.50,527.56 131.10,453.92 147.70,391.39 164.30,437.38 197.50,468.95 230.70,483.23" fill="none" stroke="#222" stroke-width="1.0" />
<rect x="95.40" y="534.38" width="5.00" height="5.00" fill="#000" />
<rect x="112.00" y="525.06" width="5.00" height="5.00" fill="#000" />
<rect x="128.60" y="451.42" width="5.00" height="5.00" fill="#000" />
<rect x="145.20" y="388.89" width="5.00" height="5.00" fill="#000" />
<rect x="161.80" y="434.88" width="5.00" height="5.00" fill="#000" />
<rect x="195.00" y="466.45" width="5.00" height="5.00" fill="#000" />
<rect x="228.20" y="480.73" width="5.00" height="5.00" fill="#000" />
<text x="309.50" y="333.80" font-size="21" font-family="'Liberation Serif', serif" font-weight="bold" fill="#000" textLength="26.80" lengthAdjust="spacingAndGlyphs" >(E)</text>
<line x1="398.80" y1="356.20" x2="398.80" y2="535.80" stroke="#b0b0b0" stroke-width="1.2" />
<line x1="398.80" y1="535.80" x2="564.60" y2="535.80" stroke="#8a8a8a" stroke-width="1" />
<line x1="396.80" y1="535.80" x2="398.80" y2="535.80" stroke="#999" stroke-width="1" />
<text x="396.50" y="538.70" font-size="8.5" font-family="'Liberation Serif', serif" font-weight="bold" fill="#111" text-anchor="end" textLength="12.00" lengthAdjust="spacingAndGlyphs" stroke="#111" stroke-width="0.2">0.0</text>
<line x1="396.80" y1="505.88" x2="398.80" y2="505.88" stroke="#999" stroke-width="1" />
<text x="396.50" y="508.78" font-size="8.5" font-family="'Liberation Serif', serif" font-weight="bold" fill="#111" text-anchor="end" textLength="12.00" lengthAdjust="spacingAndGlyphs" stroke="#111" stroke-width="0.2">0.2</text>
<line x1="396.80" y1="475.96" x2="398.80" y2="475.96" stroke="#999" stroke-width="1" />
<text x="396.50" y="478.86" font-size="8.5" font-family="'Liberation Serif', serif" font-weight="bold" fill="#111" text-anchor="end" textLength="12.00" lengthAdjust="spacingAndGlyphs" stroke="#111" stroke-width="0.2">0.4</text>
<line x1="396.80" y1="446.04" x2="398.80" y2="446.04" stroke="#999" stroke-width="1" />
<text x="396.50" y="448.94" font-size="8.5" font-family="'Liberation Serif', serif" font-weight="bold" fill="#111" text-anchor="end" textLength="12.00" lengthAdjust="spacingAndGlyphs" stroke="#111" stroke-width="0.2">0.6</text>
<line x1="396.80" y1="416.12" x2="398.80" y2="416.12" stroke="#999" stroke-width="1" />
<text x="396.50" y="419.02" font-size="8.5" font-family="'Liberation Serif', serif" font-weight="bold" fill="#111" text-anchor="end" textLength="12.00" lengthAdjust="spacingAndGlyphs" stroke="#111" stroke-width="0.2">0.8</text>
<line x1="396.80" y1="386.20" x2="398.80" y2="386.20" stroke="#999" stroke-width="1" />
<text x="396.50" y="389.10" font-size="8.5" font-family="'Liberation Serif', serif" font-weight="bold" fill="#111" text-anchor="end" textLength="12.00" lengthAdjust="spacingAndGlyphs" stroke="#111" stroke-width="0.2">1.0</text>
<line x1="396.80" y1="356.28" x2="398.80" y2="356.28" stroke="#999" stroke-width="1" />
<text x="396.50" y="359.18" font-size="8.5" font-family="'Liberation Serif', serif" font-weight="bold" fill="#111" text-anchor="end" textLength="12.00" lengthAdjust="spacingAndGlyphs" stroke="#111" stroke-width="0.2">1.2</text>
<line x1="399.20" y1="535.80" x2="399.20" y2="538.20" stroke="#8a8a8a" stroke-width="1" />
<text x="399.20" y="546.40" font-size="8.5" font-family="'Liberation Serif', serif" font-weight="bold" fill="#111" text-anchor="middle" stroke="#111" stroke-width="0.2">0</text>
<line x1="410.94" y1="535.80" x2="410.94" y2="538.20" stroke="#8a8a8a" stroke-width="1" />
<text x="410.94" y="546.40" font-size="8.5" font-family="'Liberation Serif', serif" font-weight="bold" fill="#111" text-anchor="middle" stroke="#111" stroke-width="0.2">2</text>
<line x1="422.68" y1="535.80" x2="422.68" y2="538.20" stroke="#8a8a8a" stroke-width="1" />
<text x="422.68" y="546.40" font-size="8.5" font-family="'Liberation Serif', serif" font-weight="bold" fill="#111" text-anchor="middle" stroke="#111" stroke-width="0.2">4</text>
<line x1="434.42" y1="535.80" x2="434.42" y2="538.20" stroke="#8a8a8a" stroke-width="1" />
<text x="434.42" y="546.40" font-size="8.5" font-family="'Liberation Serif', serif" font-weight="bold" fill="#111" text-anchor="middle" stroke="#111" stroke-width="0.2">6</text>
<line x1="446.16" y1="535.80" x2="446.16" y2="538.20" stroke="#8a8a8a" stroke-width="1" />
<text x="446.16" y="546.40" font-size="8.5" font-family="'Liberation Serif', serif" font-weight="bold" fill="#111" text-anchor="middle" stroke="#111" stroke-width="0.2">8</text>
<line x1="457.90" y1="535.80" x2="457.90" y2="538.20" stroke="#8a8a8a" stroke-width="1" />
<text x="457.90" y="546.40" font-size="8.5" font-family="'Liberation Serif', serif" font-weight="bold" fill="#111" text-anchor="middle" stroke="#111" stroke-width="0.2">10</text>
<line x1="469.64" y1="535.80" x2="469.64" y2="538.20" stroke="#8a8a8a" stroke-width="1" />
<text x="469.64" y="546.40" font-size="8.5" font-family="'Liberation Serif', serif" font-weight="bold" fill="#111" text-anchor="middle" stroke="#111" stroke-width="0.2">12</text>
<line x1="481.38" y1="535.80" x2="481.38" y2="538.20" stroke="#8a8a8a" stroke-width="1" />
<text x="481.38" y="546.40" font-size="8.5" font-family="'Liberation Serif', serif" font-weight="bold" fill="#111" text-anchor="middle" stroke="#111" stroke-width="0.2">14</text>
<line x1="493.12" y1="535.80" x2="493.12" y2="538.20" stroke="#8a8a8a" stroke-width="1" />
<text x="493.12" y="546.40" font-size="8.5" font-family="'Liberation Serif', serif" font-weight="bold" fill="#111" text-anchor="middle" stroke="#111" stroke-width="0.2">16</text>
<line x1="504.86" y1="535.80" x2="504.86" y2="538.20" stroke="#8a8a8a" stroke-width="1" />
<text x="504.86" y="546.40" font-size="8.5" font-family="'Liberation Serif', serif" font-weight="bold" fill="#111" text-anchor="middle" stroke="#111" stroke-width="0.2">18</text>
<line x1="516.60" y1="535.80" x2="516.60" y2="538.20" stroke="#8a8a8a" stroke-width="1" />
<text x="516.60" y="546.40" font-size="8.5" font-family="'Liberation Serif', serif" font-weight="bold" fill="#111" text-anchor="middle" stroke="#111" stroke-width="0.2">20</text>
<line x1="528.34" y1="535.80" x2="528.34" y2="538.20" stroke="#8a8a8a" stroke-width="1" />
<text x="528.34" y="546.40" font-size="8.5" font-family="'Liberation Serif', serif" font-weight="bold" fill="#111" text-anchor="middle" stroke="#111" stroke-width="0.2">22</text>
<line x1="540.08" y1="535.80" x2="540.08" y2="538.20" stroke="#8a8a8a" stroke-width="1" />
<text x="540.08" y="546.40" font-size="8.5" font-family="'Liberation Serif', serif" font-weight="bold" fill="#111" text-anchor="middle" stroke="#111" stroke-width="0.2">24</text>
<line x1="551.82" y1="535.80" x2="551.82" y2="538.20" stroke="#8a8a8a" stroke-width="1" />
<text x="551.82" y="546.40" font-size="8.5" font-family="'Liberation Serif', serif" font-weight="bold" fill="#111" text-anchor="middle" stroke="#111" stroke-width="0.2">26</text>
<line x1="563.56" y1="535.80" x2="563.56" y2="538.20" stroke="#8a8a8a" stroke-width="1" />
<text x="563.56" y="546.40" font-size="8.5" font-family="'Liberation Serif', serif" font-weight="bold" fill="#111" text-anchor="middle" stroke="#111" stroke-width="0.2">28</text>
<text x="468.70" y="560.90" font-size="12" font-family="'Liberation Serif', serif" font-weight="bold" fill="#000" textLength="25.40" lengthAdjust="spacingAndGlyphs" >Days</text>
<text x="380.40" y="504.00" font-size="13.5" font-family="'Liberation Serif', serif" font-weight="bold" fill="#000" textLength="128.00" lengthAdjust="spacingAndGlyphs" transform="rotate(-90 380.40 504.00)" >Relative mRNA levels</text>
<text x="478.70" y="367.80" font-size="11" font-family="'Liberation Serif', serif" font-weight="bold" fill="#000" textLength="43.80" lengthAdjust="spacingAndGlyphs" >ZSCAN4</text>
<text x="478.70" y="379.80" font-size="11" font-family="'Liberation Serif', serif" font-weight="bold" fill="#000" textLength="44.40" lengthAdjust="spacingAndGlyphs" >MBD3L2</text>
<text x="478.70" y="393.40" font-size="11" font-family="'Liberation Serif', serif" font-weight="bold" fill="#000" textLength="37.90" lengthAdjust="spacingAndGlyphs" >LEUTX</text>
<circle cx="472.60" cy="364.40" r="1.40" fill="#000" />
<circle cx="472.60" cy="376.00" r="1.60" fill="#000" />
<polygon points="470.6,389.6 474.6,387.6 474.6,391.2" fill="#000"/>
<line x1="416.50" y1="463.99" x2="416.50" y2="475.96" stroke="#555" stroke-width="0.7" />
<line x1="414.80" y1="463.99" x2="418.20" y2="463.99" stroke="#555" stroke-width="0.7" />
<line x1="414.80" y1="475.96" x2="418.20" y2="475.96" stroke="#555" stroke-width="0.7" />
<line x1="422.50" y1="375.73" x2="422.50" y2="396.67" stroke="#555" stroke-width="0.7" />
<line x1="420.80" y1="375.73" x2="424.20" y2="375.73" stroke="#555" stroke-width="0.7" />
<line x1="420.80" y1="396.67" x2="424.20" y2="396.67" stroke="#555" stroke-width="0.7" />
<line x1="428.50" y1="362.26" x2="428.50" y2="410.14" stroke="#555" stroke-width="0.7" />
<line x1="426.80" y1="362.26" x2="430.20" y2="362.26" stroke="#555" stroke-width="0.7" />
<line x1="426.80" y1="410.14" x2="430.20" y2="410.14" stroke="#555" stroke-width="0.7" />
<line x1="440.50" y1="404.15" x2="440.50" y2="446.04" stroke="#555" stroke-width="0.7" />
<line x1="438.80" y1="404.15" x2="442.20" y2="404.15" stroke="#555" stroke-width="0.7" />
<line x1="438.80" y1="446.04" x2="442.20" y2="446.04" stroke="#555" stroke-width="0.7" />
<line x1="452.50" y1="450.53" x2="452.50" y2="480.45" stroke="#555" stroke-width="0.7" />
<line x1="450.80" y1="450.53" x2="454.20" y2="450.53" stroke="#555" stroke-width="0.7" />
<line x1="450.80" y1="480.45" x2="454.20" y2="480.45" stroke="#555" stroke-width="0.7" />
<line x1="481.50" y1="517.85" x2="481.50" y2="526.82" stroke="#555" stroke-width="0.7" />
<line x1="479.80" y1="517.85" x2="483.20" y2="517.85" stroke="#555" stroke-width="0.7" />
<line x1="479.80" y1="526.82" x2="483.20" y2="526.82" stroke="#555" stroke-width="0.7" />
<line x1="522.50" y1="519.34" x2="522.50" y2="528.32" stroke="#555" stroke-width="0.7" />
<line x1="520.80" y1="519.34" x2="524.20" y2="519.34" stroke="#555" stroke-width="0.7" />
<line x1="520.80" y1="528.32" x2="524.20" y2="528.32" stroke="#555" stroke-width="0.7" />
<line x1="563.50" y1="522.34" x2="563.50" y2="528.32" stroke="#555" stroke-width="0.7" />
<line x1="561.80" y1="522.34" x2="565.20" y2="522.34" stroke="#555" stroke-width="0.7" />
<line x1="561.80" y1="528.32" x2="565.20" y2="528.32" stroke="#555" stroke-width="0.7" />
<line x1="416.50" y1="496.90" x2="416.50" y2="502.89" stroke="#555" stroke-width="0.7" />
<line x1="414.80" y1="496.90" x2="418.20" y2="496.90" stroke="#555" stroke-width="0.7" />
<line x1="414.80" y1="502.89" x2="418.20" y2="502.89" stroke="#555" stroke-width="0.7" />
<line x1="422.50" y1="395.18" x2="422.50" y2="410.14" stroke="#555" stroke-width="0.7" />
<line x1="420.80" y1="395.18" x2="424.20" y2="395.18" stroke="#555" stroke-width="0.7" />
<line x1="420.80" y1="410.14" x2="424.20" y2="410.14" stroke="#555" stroke-width="0.7" />
<line x1="428.50" y1="368.25" x2="428.50" y2="404.15" stroke="#555" stroke-width="0.7" />
<line x1="426.80" y1="368.25" x2="430.20" y2="368.25" stroke="#555" stroke-width="0.7" />
<line x1="426.80" y1="404.15" x2="430.20" y2="404.15" stroke="#555" stroke-width="0.7" />
<line x1="440.50" y1="398.17" x2="440.50" y2="428.09" stroke="#555" stroke-width="0.7" />
<line x1="438.80" y1="398.17" x2="442.20" y2="398.17" stroke="#555" stroke-width="0.7" />
<line x1="438.80" y1="428.09" x2="442.20" y2="428.09" stroke="#555" stroke-width="0.7" />
<line x1="452.50" y1="468.48" x2="452.50" y2="483.44" stroke="#555" stroke-width="0.7" />
<line x1="450.80" y1="468.48" x2="454.20" y2="468.48" stroke="#555" stroke-width="0.7" />
<line x1="450.80" y1="483.44" x2="454.20" y2="483.44" stroke="#555" stroke-width="0.7" />
<line x1="481.50" y1="519.64" x2="481.50" y2="525.63" stroke="#555" stroke-width="0.7" />
<line x1="479.80" y1="519.64" x2="483.20" y2="519.64" stroke="#555" stroke-width="0.7" />
<line x1="479.80" y1="525.63" x2="483.20" y2="525.63" stroke="#555" stroke-width="0.7" />
<line x1="522.50" y1="520.84" x2="522.50" y2="526.82" stroke="#555" stroke-width="0.7" />
<line x1="520.80" y1="520.84" x2="524.20" y2="520.84" stroke="#555" stroke-width="0.7" />
<line x1="520.80" y1="526.82" x2="524.20" y2="526.82" stroke="#555" stroke-width="0.7" />
<line x1="563.50" y1="524.58" x2="563.50" y2="530.56" stroke="#555" stroke-width="0.7" />
<line x1="561.80" y1="524.58" x2="565.20" y2="524.58" stroke="#555" stroke-width="0.7" />
<line x1="561.80" y1="530.56" x2="565.20" y2="530.56" stroke="#555" stroke-width="0.7" />
<line x1="416.50" y1="501.39" x2="416.50" y2="507.38" stroke="#555" stroke-width="0.7" />
<line x1="414.80" y1="501.39" x2="418.20" y2="501.39" stroke="#555" stroke-width="0.7" />
<line x1="414.80" y1="507.38" x2="418.20" y2="507.38" stroke="#555" stroke-width="0.7" />
<line x1="422.50" y1="393.68" x2="422.50" y2="408.64" stroke="#555" stroke-width="0.7" />
<line x1="420.80" y1="393.68" x2="424.20" y2="393.68" stroke="#555" stroke-width="0.7" />
<line x1="420.80" y1="408.64" x2="424.20" y2="408.64" stroke="#555" stroke-width="0.7" />
<line x1="428.50" y1="374.23" x2="428.50" y2="404.15" stroke="#555" stroke-width="0.7" />
<line x1="426.80" y1="374.23" x2="430.20" y2="374.23" stroke="#555" stroke-width="0.7" />
<line x1="426.80" y1="404.15" x2="430.20" y2="404.15" stroke="#555" stroke-width="0.7" />
<line x1="440.50" y1="416.12" x2="440.50" y2="440.06" stroke="#555" stroke-width="0.7" />
<line x1="438.80" y1="416.12" x2="442.20" y2="416.12" stroke="#555" stroke-width="0.7" />
<line x1="438.80" y1="440.06" x2="442.20" y2="440.06" stroke="#555" stroke-width="0.7" />
<line x1="452.50" y1="480.45" x2="452.50" y2="492.42" stroke="#555" stroke-width="0.7" />
<line x1="450.80" y1="480.45" x2="454.20" y2="480.45" stroke="#555" stroke-width="0.7" />
<line x1="450.80" y1="492.42" x2="454.20" y2="492.42" stroke="#555" stroke-width="0.7" />
<line x1="481.50" y1="525.33" x2="481.50" y2="529.82" stroke="#555" stroke-width="0.7" />
<line x1="479.80" y1="525.33" x2="483.20" y2="525.33" stroke="#555" stroke-width="0.7" />
<line x1="479.80" y1="529.82" x2="483.20" y2="529.82" stroke="#555" stroke-width="0.7" />
<line x1="522.50" y1="528.32" x2="522.50" y2="532.81" stroke="#555" stroke-width="0.7" />
<line x1="520.80" y1="528.32" x2="524.20" y2="528.32" stroke="#555" stroke-width="0.7" />
<line x1="520.80" y1="532.81" x2="524.20" y2="532.81" stroke="#555" stroke-width="0.7" />
<line x1="563.50" y1="525.33" x2="563.50" y2="529.82" stroke="#555" stroke-width="0.7" />
<line x1="561.80" y1="525.33" x2="565.20" y2="525.33" stroke="#555" stroke-width="0.7" />
<line x1="561.80" y1="529.82" x2="565.20" y2="529.82" stroke="#555" stroke-width="0.7" />
<polyline points="405.07,527.57 410.94,528.32 416.81,504.38 422.68,401.16 428.55,389.19 440.29,428.09 452.03,486.43 481.38,527.57 522.47,530.56 563.56,527.57" fill="none" stroke="#000" stroke-width="1.1" stroke-dasharray="3,1.5,1,1.5"/>
<polyline points="405.07,526.82 410.94,529.07 416.81,499.90 422.68,402.66 428.55,386.20 440.29,413.13 452.03,475.96 481.38,522.64 522.47,523.83 563.56,527.57" fill="none" stroke="#000" stroke-width="1.3" stroke-dasharray="3.5,2"/>
<polyline points="405.07,519.64 410.94,520.84 416.81,469.98 422.68,386.20 428.55,386.20 440.29,425.10 452.03,465.49 481.38,522.34 522.47,523.83 563.56,525.33" fill="none" stroke="#000" stroke-width="1.0" />
<circle cx="405.07" cy="526.82" r="2.00" fill="#000" />
<circle cx="410.94" cy="529.07" r="2.00" fill="#000" />
<circle cx="416.81" cy="499.90" r="2.00" fill="#000" />
<circle cx="422.68" cy="402.66" r="2.00" fill="#000" />
<circle cx="428.55" cy="386.20" r="2.00" fill="#000" />
<circle cx="440.29" cy="413.13" r="2.00" fill="#000" />
<circle cx="452.03" cy="475.96" r="2.00" fill="#000" />
<circle cx="481.38" cy="522.64" r="2.00" fill="#000" />
<circle cx="522.47" cy="523.83" r="2.00" fill="#000" />
<circle cx="563.56" cy="527.57" r="2.00" fill="#000" />
<circle cx="405.07" cy="519.64" r="1.30" fill="#000" />
<circle cx="410.94" cy="520.84" r="1.30" fill="#000" />
<circle cx="416.81" cy="469.98" r="1.30" fill="#000" />
<circle cx="422.68" cy="386.20" r="1.30" fill="#000" />
<circle cx="428.55" cy="386.20" r="1.30" fill="#000" />
<circle cx="440.29" cy="425.10" r="1.30" fill="#000" />
<circle cx="452.03" cy="465.49" r="1.30" fill="#000" />
<circle cx="481.38" cy="522.34" r="1.30" fill="#000" />
<circle cx="522.47" cy="523.83" r="1.30" fill="#000" />
<circle cx="563.56" cy="525.33" r="1.30" fill="#000" />
<polygon points="403.07,527.57 406.87,525.77 406.87,529.37" fill="#000"/>
<polygon points="408.94,528.32 412.74,526.52 412.74,530.12" fill="#000"/>
<polygon points="414.81,504.38 418.61,502.58 418.61,506.18" fill="#000"/>
<polygon points="420.68,401.16 424.48,399.36 424.48,402.96" fill="#000"/>
<polygon points="426.55,389.19 430.35,387.39 430.35,390.99" fill="#000"/>
<polygon points="438.29,428.09 442.09,426.29 442.09,429.89" fill="#000"/>
<polygon points="450.03,486.43 453.83,484.63 453.83,488.23" fill="#000"/>
<polygon points="479.38,527.57 483.18,525.77 483.18,529.37" fill="#000"/>
<polygon points="520.47,530.56 524.27,528.76 524.27,532.36" fill="#000"/>
<polygon points="561.56,527.57 565.36,525.77 565.36,529.37" fill="#000"/>
<text x="31.40" y="643.80" font-size="21" font-family="'Liberation Serif', serif" font-weight="bold" fill="#000" textLength="25.40" lengthAdjust="spacingAndGlyphs" >(F)</text>
<line x1="85.00" y1="668.30" x2="85.00" y2="838.80" stroke="#7a7a7a" stroke-width="1.3" />
<line x1="85.00" y1="838.80" x2="289.60" y2="838.80" stroke="#7a7a7a" stroke-width="1.6" />
<line x1="82.80" y1="838.80" x2="85.00" y2="838.80" stroke="#7a7a7a" stroke-width="1" />
<text x="81.00" y="842.20" font-size="10" font-family="'Liberation Serif', serif" font-weight="bold" fill="#111" text-anchor="end" >0</text>
<line x1="82.80" y1="804.75" x2="85.00" y2="804.75" stroke="#7a7a7a" stroke-width="1" />
<text x="81.00" y="808.15" font-size="10" font-family="'Liberation Serif', serif" font-weight="bold" fill="#111" text-anchor="end" >1</text>
<line x1="82.80" y1="770.70" x2="85.00" y2="770.70" stroke="#7a7a7a" stroke-width="1" />
<text x="81.00" y="774.10" font-size="10" font-family="'Liberation Serif', serif" font-weight="bold" fill="#111" text-anchor="end" >2</text>
<line x1="82.80" y1="736.65" x2="85.00" y2="736.65" stroke="#7a7a7a" stroke-width="1" />
<text x="81.00" y="740.05" font-size="10" font-family="'Liberation Serif', serif" font-weight="bold" fill="#111" text-anchor="end" >3</text>
<line x1="82.80" y1="702.60" x2="85.00" y2="702.60" stroke="#7a7a7a" stroke-width="1" />
<text x="81.00" y="706.00" font-size="10" font-family="'Liberation Serif', serif" font-weight="bold" fill="#111" text-anchor="end" >4</text>
<line x1="82.80" y1="668.55" x2="85.00" y2="668.55" stroke="#7a7a7a" stroke-width="1" />
<text x="81.00" y="671.95" font-size="10" font-family="'Liberation Serif', serif" font-weight="bold" fill="#111" text-anchor="end" >5</text>
<text x="73.60" y="822.10" font-size="14.5" font-family="'Liberation Serif', serif" font-weight="bold" fill="#000" textLength="144.20" lengthAdjust="spacingAndGlyphs" transform="rotate(-90 73.60 822.10)" >Relative mRNA levels</text>
<rect x="104.00" y="673.10" width="5.20" height="12.30" fill="url(#chkF)" stroke="#333" stroke-width="0.4"/>
<rect x="104.00" y="694.20" width="5.20" height="12.80" fill="url(#hat)" stroke="#888" stroke-width="0.4"/>
<rect x="104.00" y="714.30" width="5.20" height="11.40" fill="#868686" stroke="#555" stroke-width="0.4"/>
<text x="111.70" y="683.80" font-size="13" font-family="'Liberation Serif', serif" font-weight="bold" fill="#000" textLength="43.40" lengthAdjust="spacingAndGlyphs" >ZSCAN4</text>
<text x="111.70" y="704.80" font-size="13" font-family="'Liberation Serif', serif" font-weight="bold" fill="#000" textLength="44.00" lengthAdjust="spacingAndGlyphs" >MBD3L2</text>
<text x="111.70" y="724.50" font-size="13" font-family="'Liberation Serif', serif" font-weight="bold" fill="#000" textLength="37.00" lengthAdjust="spacingAndGlyphs" >LEUTX</text>
<line x1="103.00" y1="777.17" x2="103.00" y2="804.75" stroke="#b5b5b5" stroke-width="1.1" />
<line x1="98.70" y1="777.17" x2="107.30" y2="777.17" stroke="#b5b5b5" stroke-width="1.1" />
<rect x="93.80" y="804.75" width="18.40" height="34.05" fill="url(#chkF)" stroke="#444" stroke-width="0.5" stroke-dasharray="1,1"/>
<line x1="103.00" y1="838.80" x2="103.00" y2="842.00" stroke="#7a7a7a" stroke-width="1" />
<line x1="129.70" y1="789.09" x2="129.70" y2="811.56" stroke="#555" stroke-width="1.1" />
<line x1="125.40" y1="789.09" x2="134.00" y2="789.09" stroke="#555" stroke-width="1.1" />
<rect x="120.60" y="811.56" width="18.20" height="27.24" fill="url(#chkF)" stroke="#444" stroke-width="0.5" stroke-dasharray="1,1"/>
<line x1="129.70" y1="838.80" x2="129.70" y2="842.00" stroke="#7a7a7a" stroke-width="1" />
<line x1="174.05" y1="765.93" x2="174.05" y2="804.75" stroke="#b5b5b5" stroke-width="1.1" />
<line x1="169.75" y1="765.93" x2="178.35" y2="765.93" stroke="#b5b5b5" stroke-width="1.1" />
<rect x="165.20" y="804.75" width="17.70" height="34.05" fill="url(#hat)" stroke="#444" stroke-width="0.5" stroke-dasharray="1,1"/>
<line x1="174.05" y1="838.80" x2="174.05" y2="842.00" stroke="#7a7a7a" stroke-width="1" />
<line x1="200.95" y1="756.06" x2="200.95" y2="791.81" stroke="#666" stroke-width="1.1" />
<line x1="196.65" y1="756.06" x2="205.25" y2="756.06" stroke="#666" stroke-width="1.1" />
<rect x="192.10" y="791.81" width="17.70" height="46.99" fill="url(#hat)" stroke="#444" stroke-width="0.5" stroke-dasharray="1,1"/>
<line x1="200.95" y1="838.80" x2="200.95" y2="842.00" stroke="#7a7a7a" stroke-width="1" />
<line x1="245.05" y1="777.17" x2="245.05" y2="804.75" stroke="#666" stroke-width="1.1" />
<line x1="240.75" y1="777.17" x2="249.35" y2="777.17" stroke="#666" stroke-width="1.1" />
<rect x="236.10" y="804.75" width="17.90" height="34.05" fill="#868686" stroke="#444" stroke-width="0.5" stroke-dasharray="1,1"/>
<line x1="245.05" y1="838.80" x2="245.05" y2="842.00" stroke="#7a7a7a" stroke-width="1" />
<line x1="272.05" y1="706.00" x2="272.05" y2="783.30" stroke="#bdbdbd" stroke-width="1.1" />
<line x1="267.75" y1="706.00" x2="276.35" y2="706.00" stroke="#bdbdbd" stroke-width="1.1" />
<rect x="263.10" y="783.30" width="17.90" height="55.50" fill="#868686" stroke="#444" stroke-width="0.5" stroke-dasharray="1,1"/>
<line x1="272.05" y1="838.80" x2="272.05" y2="842.00" stroke="#7a7a7a" stroke-width="1" />
<line x1="101.70" y1="770.10" x2="134.00" y2="770.10" stroke="#000" stroke-width="1.1" />
<polygon points="100.20,770.10 103.40,768.18 103.40,772.02" fill="#000"/>
<polygon points="135.50,770.10 132.30,768.18 132.30,772.02" fill="#000"/>
<line x1="167.40" y1="750.50" x2="199.50" y2="750.50" stroke="#000" stroke-width="1.1" />
<polygon points="165.90,750.50 169.10,748.58 169.10,752.42" fill="#000"/>
<polygon points="201.00,750.50 197.80,748.58 197.80,752.42" fill="#000"/>
<line x1="237.70" y1="700.40" x2="270.20" y2="700.40" stroke="#000" stroke-width="1.1" />
<polygon points="236.20,700.40 239.40,698.48 239.40,702.32" fill="#000"/>
<polygon points="271.70,700.40 268.50,698.48 268.50,702.32" fill="#000"/>
<text x="117.80" y="767.40" font-size="5" font-family="'Liberation Serif', serif" font-weight="normal" fill="#666" text-anchor="middle" >ns</text>
<text x="183.50" y="747.80" font-size="5" font-family="'Liberation Serif', serif" font-weight="normal" fill="#666" text-anchor="middle" >ns</text>
<text x="254.00" y="697.70" font-size="5" font-family="'Liberation Serif', serif" font-weight="normal" fill="#666" text-anchor="middle" >ns</text>
<text x="0" y="0" font-size="12" font-family="'Liberation Serif', serif" font-weight="bold" text-anchor="end" textLength="29.50" lengthAdjust="spacingAndGlyphs" transform="translate(104.90 850.00) scale(1 1.12) rotate(-45)">Vehicle</text>
<text x="0" y="0" font-size="12" font-family="'Liberation Serif', serif" font-weight="bold" text-anchor="end" textLength="53.00" lengthAdjust="spacingAndGlyphs" transform="translate(131.70 851.50) scale(1 1.12) rotate(-45)">Losmapimod</text>
<text x="0" y="0" font-size="12" font-family="'Liberation Serif', serif" font-weight="bold" text-anchor="end" textLength="29.50" lengthAdjust="spacingAndGlyphs" transform="translate(176.00 850.00) scale(1 1.12) rotate(-45)">Vehicle</text>
<text x="0" y="0" font-size="12" font-family="'Liberation Serif', serif" font-weight="bold" text-anchor="end" textLength="53.00" lengthAdjust="spacingAndGlyphs" transform="translate(203.00 851.50) scale(1 1.12) rotate(-45)">Losmapimod</text>
<text x="0" y="0" font-size="12" font-family="'Liberation Serif', serif" font-weight="bold" text-anchor="end" textLength="29.50" lengthAdjust="spacingAndGlyphs" transform="translate(247.10 850.00) scale(1 1.12) rotate(-45)">Vehicle</text>
<text x="0" y="0" font-size="12" font-family="'Liberation Serif', serif" font-weight="bold" text-anchor="end" textLength="53.00" lengthAdjust="spacingAndGlyphs" transform="translate(274.10 851.50) scale(1 1.12) rotate(-45)">Losmapimod</text>
<text x="351.60" y="649.40" font-size="21" font-family="'Liberation Serif', serif" font-weight="bold" fill="#000" textLength="29.30" lengthAdjust="spacingAndGlyphs" >(G)</text>
<line x1="424.30" y1="684.60" x2="424.30" y2="848.40" stroke="#333" stroke-width="1.2" />
<line x1="424.30" y1="848.40" x2="621.60" y2="848.40" stroke="#222" stroke-width="1.5" />
<line x1="422.30" y1="848.40" x2="424.30" y2="848.40" stroke="#333" stroke-width="1" />
<text x="422.30" y="851.40" font-size="8.5" font-family="'Liberation Serif', serif" font-weight="bold" fill="#111" text-anchor="end" textLength="11.30" lengthAdjust="spacingAndGlyphs" stroke="#111" stroke-width="0.2">0.0</text>
<line x1="422.30" y1="807.40" x2="424.30" y2="807.40" stroke="#333" stroke-width="1" />
<text x="422.30" y="810.40" font-size="8.5" font-family="'Liberation Serif', serif" font-weight="bold" fill="#111" text-anchor="end" textLength="11.30" lengthAdjust="spacingAndGlyphs" stroke="#111" stroke-width="0.2">0.5</text>
<line x1="422.30" y1="766.40" x2="424.30" y2="766.40" stroke="#333" stroke-width="1" />
<text x="422.30" y="769.40" font-size="8.5" font-family="'Liberation Serif', serif" font-weight="bold" fill="#111" text-anchor="end" textLength="11.30" lengthAdjust="spacingAndGlyphs" stroke="#111" stroke-width="0.2">1.0</text>
<line x1="422.30" y1="725.40" x2="424.30" y2="725.40" stroke="#333" stroke-width="1" />
<text x="422.30" y="728.40" font-size="8.5" font-family="'Liberation Serif', serif" font-weight="bold" fill="#111" text-anchor="end" textLength="11.30" lengthAdjust="spacingAndGlyphs" stroke="#111" stroke-width="0.2">1.5</text>
<line x1="422.30" y1="684.40" x2="424.30" y2="684.40" stroke="#333" stroke-width="1" />
<text x="422.30" y="687.40" font-size="8.5" font-family="'Liberation Serif', serif" font-weight="bold" fill="#111" text-anchor="end" textLength="11.30" lengthAdjust="spacingAndGlyphs" stroke="#111" stroke-width="0.2">2.0</text>
<text x="405.90" y="832.40" font-size="12.8" font-family="'Liberation Serif', serif" font-weight="bold" fill="#000" textLength="140.20" lengthAdjust="spacingAndGlyphs" transform="rotate(-90 405.90 832.40)" >Relative mRNA levels</text>
<rect x="429.20" y="687.90" width="4.70" height="11.00" fill="url(#chk)" stroke="#333" stroke-width="0.4"/>
<text x="437.00" y="697.50" font-size="12.4" font-family="'Liberation Serif', serif" font-weight="bold" fill="#000" textLength="29.80" lengthAdjust="spacingAndGlyphs" >MYH8</text>
<rect x="579.20" y="686.60" width="5.60" height="11.80" fill="url(#hat)" stroke="#888" stroke-width="0.4"/>
<text x="587.00" y="696.60" font-size="12.4" font-family="'Liberation Serif', serif" font-weight="bold" fill="#000" textLength="30.20" lengthAdjust="spacingAndGlyphs" >MYH3</text>
<line x1="451.30" y1="740.16" x2="451.30" y2="766.40" stroke="#bbb" stroke-width="1.1" />
<line x1="444.60" y1="740.16" x2="458.00" y2="740.16" stroke="#bbb" stroke-width="1.1" />
<rect x="437.90" y="766.40" width="26.80" height="82.00" fill="url(#chk)" stroke="#555" stroke-width="0.5"/>
<line x1="451.30" y1="848.40" x2="451.30" y2="851.50" stroke="#555" stroke-width="1" />
<line x1="490.45" y1="742.62" x2="490.45" y2="769.68" stroke="#555" stroke-width="1.1" />
<line x1="483.75" y1="742.62" x2="497.15" y2="742.62" stroke="#555" stroke-width="1.1" />
<rect x="477.10" y="769.68" width="26.70" height="78.72" fill="url(#chk)" stroke="#555" stroke-width="0.5"/>
<line x1="490.45" y1="848.40" x2="490.45" y2="851.50" stroke="#555" stroke-width="1" />
<line x1="556.25" y1="732.78" x2="556.25" y2="767.63" stroke="#aaa" stroke-width="1.1" />
<line x1="549.55" y1="732.78" x2="562.95" y2="732.78" stroke="#aaa" stroke-width="1.1" />
<rect x="542.60" y="767.63" width="27.30" height="80.77" fill="url(#hat)" stroke="#555" stroke-width="0.5"/>
<line x1="556.25" y1="848.40" x2="556.25" y2="851.50" stroke="#555" stroke-width="1" />
<line x1="595.40" y1="717.20" x2="595.40" y2="781.16" stroke="#555" stroke-width="1.1" />
<line x1="588.70" y1="717.20" x2="602.10" y2="717.20" stroke="#555" stroke-width="1.1" />
<rect x="582.10" y="781.16" width="26.60" height="67.24" fill="url(#hat)" stroke="#555" stroke-width="0.5"/>
<line x1="595.40" y1="848.40" x2="595.40" y2="851.50" stroke="#555" stroke-width="1" />
<line x1="448.50" y1="736.20" x2="490.20" y2="736.20" stroke="#000" stroke-width="1.1" />
<polygon points="447.00,736.20 450.20,734.28 450.20,738.12" fill="#000"/>
<polygon points="491.70,736.20 488.50,734.28 488.50,738.12" fill="#000"/>
<line x1="553.60" y1="711.50" x2="596.10" y2="711.50" stroke="#000" stroke-width="1.1" />
<polygon points="552.10,711.50 555.30,709.58 555.30,713.42" fill="#000"/>
<polygon points="597.60,711.50 594.40,709.58 594.40,713.42" fill="#000"/>
<text x="469.50" y="732.40" font-size="12" font-family="'Liberation Serif', serif" font-weight="bold" fill="#000" text-anchor="middle" textLength="9.40" lengthAdjust="spacingAndGlyphs" >ns</text>
<text x="574.30" y="707.60" font-size="12" font-family="'Liberation Serif', serif" font-weight="bold" fill="#000" text-anchor="middle" textLength="9.40" lengthAdjust="spacingAndGlyphs" >ns</text>
<text x="0" y="0" font-size="12" font-family="'Liberation Serif', serif" font-weight="bold" text-anchor="end" textLength="29.50" lengthAdjust="spacingAndGlyphs" transform="translate(453.30 859.40) scale(1 1.12) rotate(-45)">Vehicle</text>
<text x="0" y="0" font-size="12" font-family="'Liberation Serif', serif" font-weight="bold" text-anchor="end" textLength="52.00" lengthAdjust="spacingAndGlyphs" transform="translate(492.50 860.40) scale(1 1.12) rotate(-45)">Losmapimod</text>
<text x="0" y="0" font-size="12" font-family="'Liberation Serif', serif" font-weight="bold" text-anchor="end" textLength="29.50" lengthAdjust="spacingAndGlyphs" transform="translate(558.20 859.40) scale(1 1.12) rotate(-45)">Vehicle</text>
<text x="0" y="0" font-size="12" font-family="'Liberation Serif', serif" font-weight="bold" text-anchor="end" textLength="52.00" lengthAdjust="spacingAndGlyphs" transform="translate(597.40 860.40) scale(1 1.12) rotate(-45)">Losmapimod</text>
</svg></body></html>
